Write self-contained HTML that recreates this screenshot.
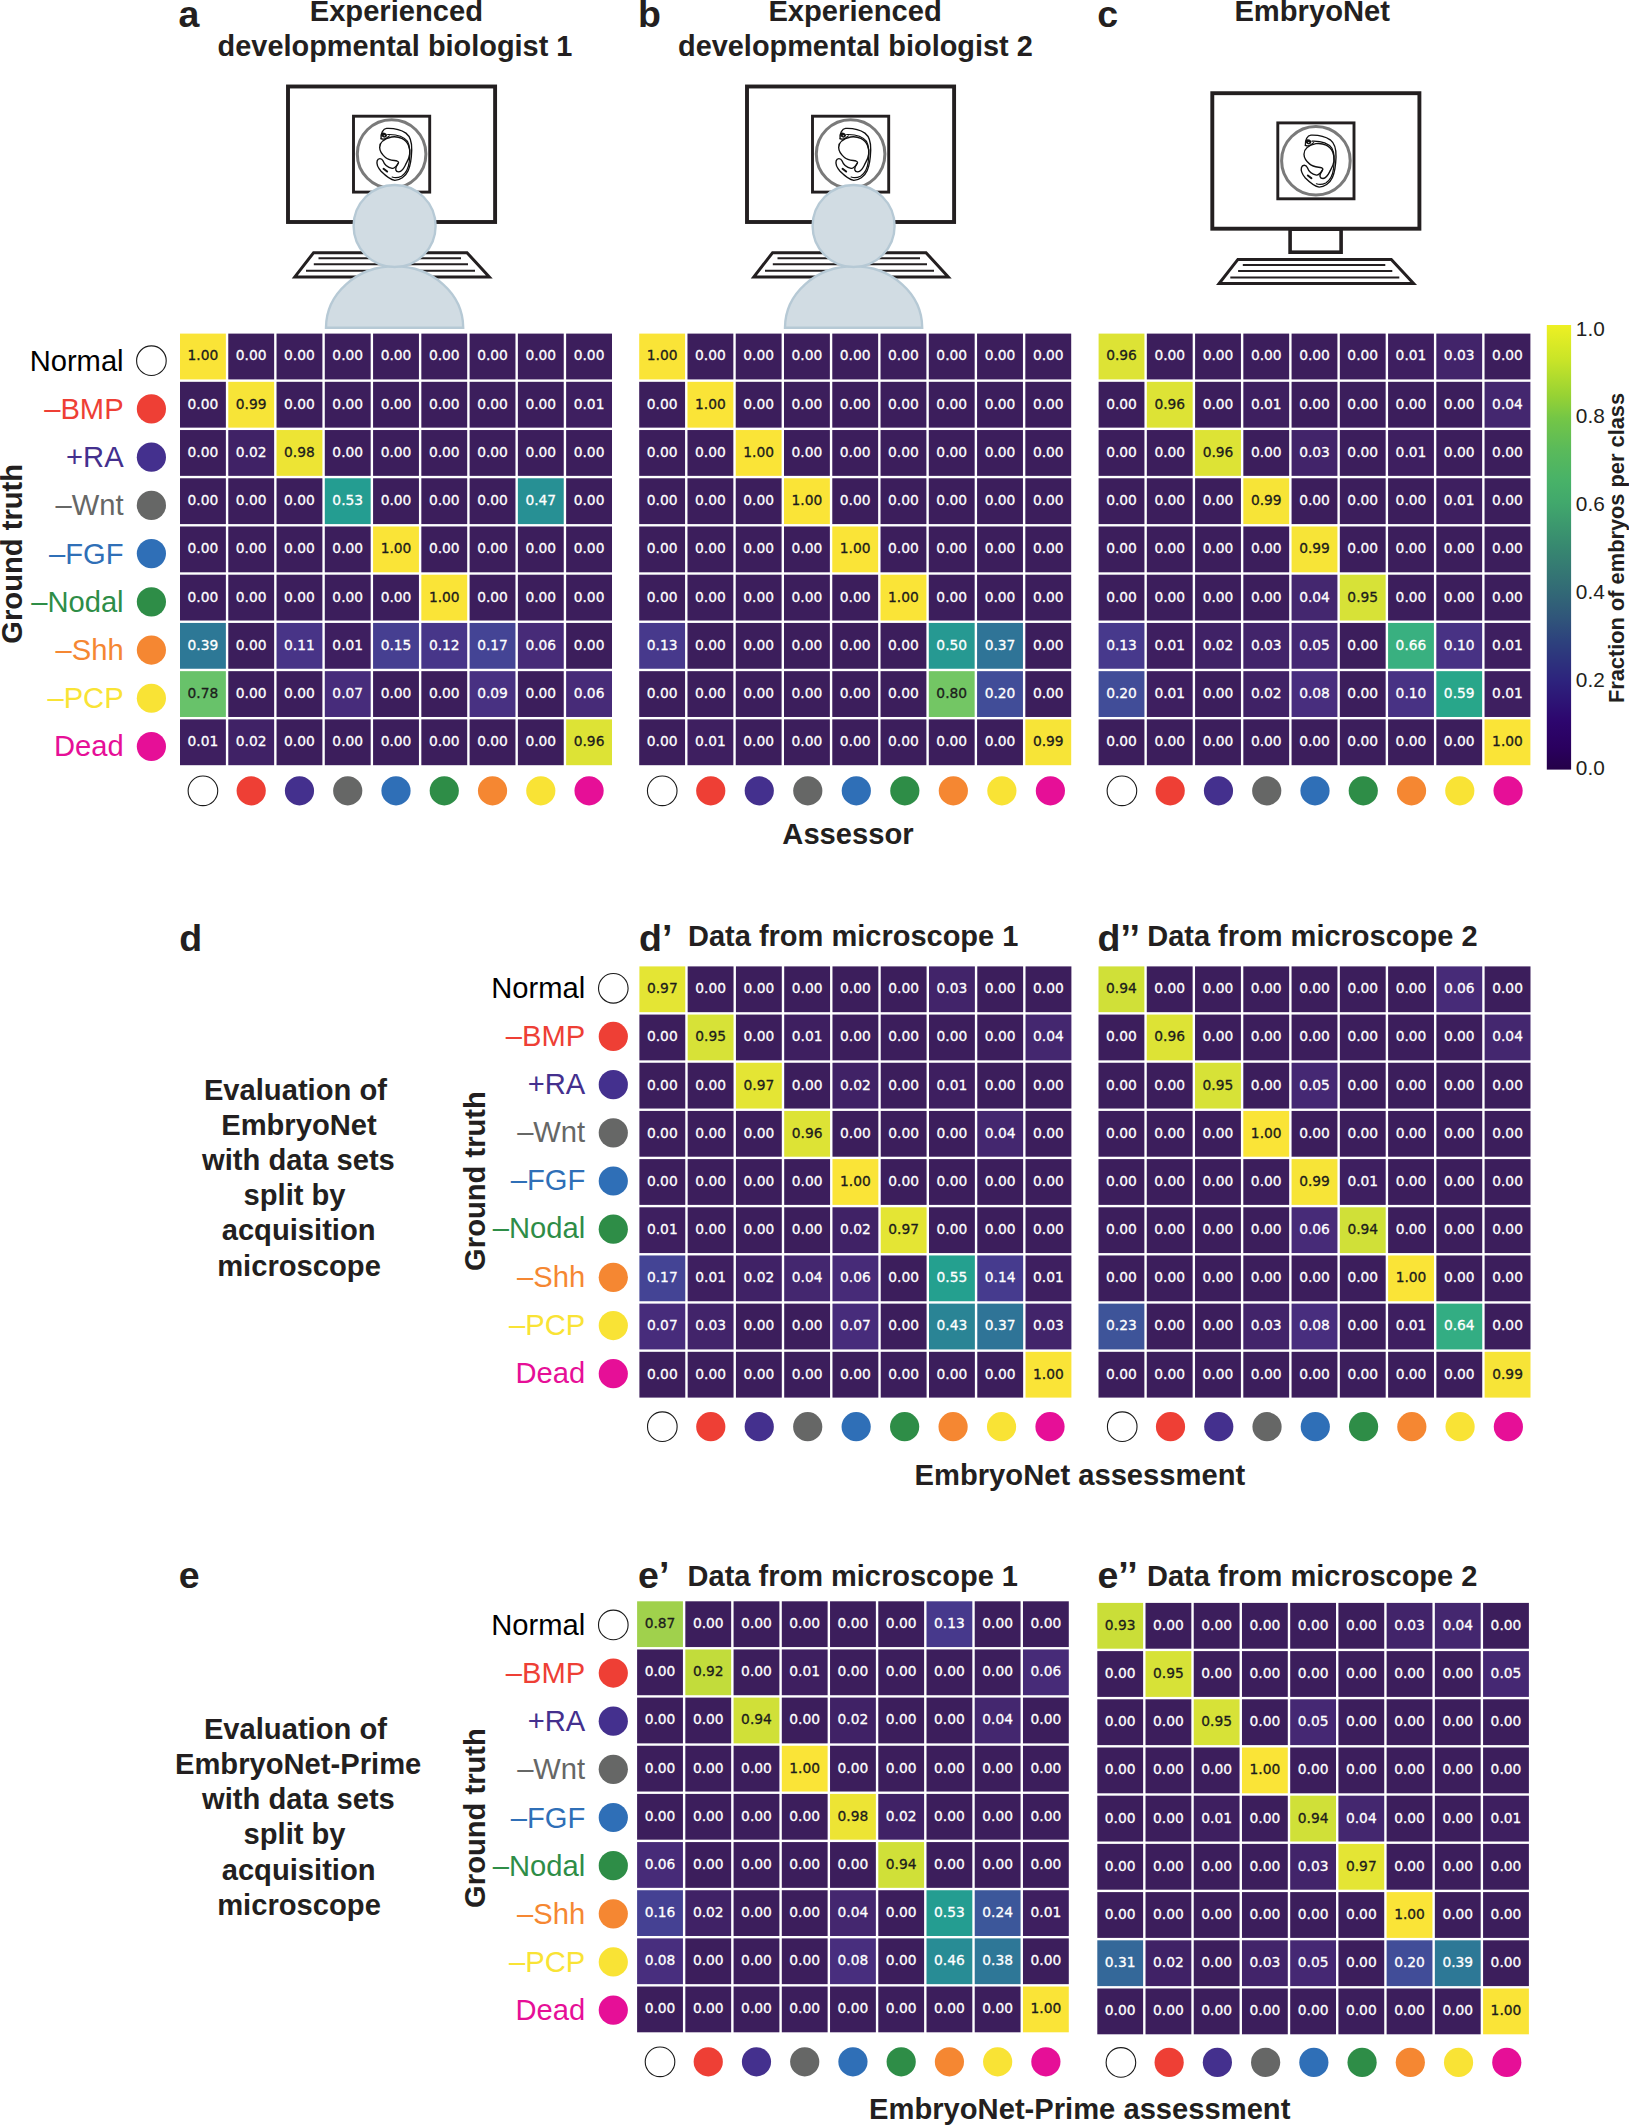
<!DOCTYPE html>
<html lang="en"><head><meta charset="utf-8"><title>Figure</title>
<style>
html,body{margin:0;padding:0;background:#fff;}
body{width:1629px;height:2127px;overflow:hidden;}
svg{display:block;}
text{white-space:pre;}
</style></head><body>
<svg width="1629" height="2127" viewBox="0 0 1629 2127">
<text x="178.60" y="27.20" font-family="Liberation Sans, Arial, Helvetica, sans-serif" font-size="37.50" font-weight="bold" text-anchor="start" fill="#231f20" >a</text>
<text x="396.40" y="20.60" font-family="Liberation Sans, Arial, Helvetica, sans-serif" font-size="29.17" font-weight="bold" text-anchor="middle" fill="#231f20" >Experienced</text>
<text x="395.00" y="56.00" font-family="Liberation Sans, Arial, Helvetica, sans-serif" font-size="28.90" font-weight="bold" text-anchor="middle" fill="#231f20" >developmental biologist 1</text>
<text x="638.00" y="27.20" font-family="Liberation Sans, Arial, Helvetica, sans-serif" font-size="37.50" font-weight="bold" text-anchor="start" fill="#231f20" >b</text>
<text x="855.10" y="20.60" font-family="Liberation Sans, Arial, Helvetica, sans-serif" font-size="29.17" font-weight="bold" text-anchor="middle" fill="#231f20" >Experienced</text>
<text x="855.40" y="56.00" font-family="Liberation Sans, Arial, Helvetica, sans-serif" font-size="28.90" font-weight="bold" text-anchor="middle" fill="#231f20" >developmental biologist 2</text>
<text x="1097.20" y="27.20" font-family="Liberation Sans, Arial, Helvetica, sans-serif" font-size="37.50" font-weight="bold" text-anchor="start" fill="#231f20" >c</text>
<text x="1312.20" y="21.10" font-family="Liberation Sans, Arial, Helvetica, sans-serif" font-size="29.17" font-weight="bold" text-anchor="middle" fill="#231f20" >EmbryoNet</text>
<g fill="none" stroke="#231f20">
<rect x="288.00" y="86.50" width="207.10" height="135.50" fill="#fff" stroke-width="3.9"/>
<rect x="353.50" y="116.20" width="76.20" height="75.90" stroke-width="2.9"/>
<circle cx="391.60" cy="154.00" r="34.3" stroke="#7a7a7a" stroke-width="3.0"/>
<path d="M313.60 252.70 L467.00 252.70 L489.30 276.90 L294.80 276.90 Z" stroke-width="3.0" fill="#fff" stroke-linejoin="miter"/>
<path d="M318.50 258.30 H461.00" stroke-width="1.90"/>
<path d="M313.80 264.30 H468.00" stroke-width="1.90"/>
<path d="M306.00 270.80 H475.00" stroke-width="1.90"/>
</g>
<path d="M 381.06 138.66 C 380.51 133.13 383.27 128.71 386.58 128.44 C 393.21 128.16 400.95 129.82 405.92 133.13 C 410.89 137.00 412.00 143.08 411.72 150.26 C 411.45 158.55 410.34 165.73 408.13 170.70 C 405.37 176.78 399.84 180.37 394.87 180.37 C 391.00 179.82 385.48 175.68 381.06 171.26 C 377.74 167.39 376.36 163.52 377.19 160.76 C 378.02 158.00 381.61 157.72 382.99 160.76 C 384.37 164.63 388.24 167.66 392.11 168.38 C 394.87 168.49 396.80 165.73 398.19 163.24" fill="none" stroke="#111" stroke-width="1.35" stroke-linecap="round" stroke-linejoin="round"/>
<path d="M 379.68 147.50 C 379.68 141.97 384.37 138.66 391.56 137.00 C 398.74 135.90 405.92 139.21 408.41 145.29 C 410.62 150.81 409.79 157.44 406.47 162.97 C 404.26 166.84 403.16 171.26 398.74 171.81 C 395.42 171.81 394.87 169.05 396.80 165.73 C 398.19 163.52 399.84 161.86 397.08 161.03 C 393.21 160.21 388.79 160.21 385.48 157.44 C 381.61 154.13 379.68 151.37 379.68 147.50 Z" fill="none" stroke="#111" stroke-width="1.35" stroke-linecap="round" stroke-linejoin="round"/>
<path d="M 387.69 134.52 C 395.42 134.24 403.71 136.45 407.58 141.42 C 410.34 146.39 410.06 155.79 409.24 161.86 C 408.41 168.49 405.92 173.47 401.50 176.23 C 398.19 177.89 394.32 177.89 392.11 177.06" fill="none" stroke="#111" stroke-width="1.20" stroke-linecap="round" stroke-linejoin="round"/>
<ellipse cx="384.10" cy="135.07" rx="2.9" ry="2.4" fill="#111" transform="rotate(25 384.10 135.07)"/>
<ellipse cx="384.40" cy="135.77" rx="0.8" ry="0.45" fill="#fff"/>
<path d="M 381.06 138.66 C 383.27 139.76 386.58 138.66 389.35 135.90" fill="none" stroke="#111" stroke-width="1.20" stroke-linecap="round" stroke-linejoin="round"/>
<path d="M 383.55 168.77 L 387.14 171.53" fill="none" stroke="#111" stroke-width="2.00" stroke-linecap="round" stroke-linejoin="round"/>
<g fill="#d1dce3" stroke="#b6c9d5" stroke-width="2.4">
<path d="M326.00 327.80 A68.6 61.5 0 0 1 463.20 327.80 Z"/>
<circle cx="394.60" cy="226.00" r="41"/>
</g>
<g fill="none" stroke="#231f20">
<rect x="747.00" y="86.50" width="207.10" height="135.50" fill="#fff" stroke-width="3.9"/>
<rect x="812.50" y="116.20" width="76.20" height="75.90" stroke-width="2.9"/>
<circle cx="850.60" cy="154.00" r="34.3" stroke="#7a7a7a" stroke-width="3.0"/>
<path d="M772.60 252.70 L926.00 252.70 L948.30 276.90 L753.80 276.90 Z" stroke-width="3.0" fill="#fff" stroke-linejoin="miter"/>
<path d="M777.50 258.30 H920.00" stroke-width="1.90"/>
<path d="M772.80 264.30 H927.00" stroke-width="1.90"/>
<path d="M765.00 270.80 H934.00" stroke-width="1.90"/>
</g>
<path d="M 840.06 138.66 C 839.51 133.13 842.27 128.71 845.58 128.44 C 852.21 128.16 859.95 129.82 864.92 133.13 C 869.89 137.00 871.00 143.08 870.72 150.26 C 870.45 158.55 869.34 165.73 867.13 170.70 C 864.37 176.78 858.84 180.37 853.87 180.37 C 850.00 179.82 844.48 175.68 840.06 171.26 C 836.74 167.39 835.36 163.52 836.19 160.76 C 837.02 158.00 840.61 157.72 841.99 160.76 C 843.37 164.63 847.24 167.66 851.11 168.38 C 853.87 168.49 855.80 165.73 857.19 163.24" fill="none" stroke="#111" stroke-width="1.35" stroke-linecap="round" stroke-linejoin="round"/>
<path d="M 838.68 147.50 C 838.68 141.97 843.37 138.66 850.56 137.00 C 857.74 135.90 864.92 139.21 867.41 145.29 C 869.62 150.81 868.79 157.44 865.47 162.97 C 863.26 166.84 862.16 171.26 857.74 171.81 C 854.42 171.81 853.87 169.05 855.80 165.73 C 857.19 163.52 858.84 161.86 856.08 161.03 C 852.21 160.21 847.79 160.21 844.48 157.44 C 840.61 154.13 838.68 151.37 838.68 147.50 Z" fill="none" stroke="#111" stroke-width="1.35" stroke-linecap="round" stroke-linejoin="round"/>
<path d="M 846.69 134.52 C 854.42 134.24 862.71 136.45 866.58 141.42 C 869.34 146.39 869.06 155.79 868.24 161.86 C 867.41 168.49 864.92 173.47 860.50 176.23 C 857.19 177.89 853.32 177.89 851.11 177.06" fill="none" stroke="#111" stroke-width="1.20" stroke-linecap="round" stroke-linejoin="round"/>
<ellipse cx="843.10" cy="135.07" rx="2.9" ry="2.4" fill="#111" transform="rotate(25 843.10 135.07)"/>
<ellipse cx="843.40" cy="135.77" rx="0.8" ry="0.45" fill="#fff"/>
<path d="M 840.06 138.66 C 842.27 139.76 845.58 138.66 848.35 135.90" fill="none" stroke="#111" stroke-width="1.20" stroke-linecap="round" stroke-linejoin="round"/>
<path d="M 842.55 168.77 L 846.14 171.53" fill="none" stroke="#111" stroke-width="2.00" stroke-linecap="round" stroke-linejoin="round"/>
<g fill="#d1dce3" stroke="#b6c9d5" stroke-width="2.4">
<path d="M785.00 327.80 A68.6 61.5 0 0 1 922.20 327.80 Z"/>
<circle cx="853.60" cy="226.00" r="41"/>
</g>
<g fill="none" stroke="#231f20">
<rect x="1212.30" y="93.20" width="207.10" height="135.50" fill="#fff" stroke-width="3.9"/>
<rect x="1277.80" y="122.90" width="76.20" height="75.90" stroke-width="2.9"/>
<circle cx="1315.90" cy="160.70" r="34.3" stroke="#7a7a7a" stroke-width="3.0"/>
<rect x="1290.10" y="229.20" width="51.00" height="23.00" stroke-width="3.6"/>
<path d="M1237.90 259.40 L1391.30 259.40 L1413.60 283.60 L1219.10 283.60 Z" stroke-width="3.0" fill="#fff" stroke-linejoin="miter"/>
<path d="M1242.80 265.00 H1385.30" stroke-width="1.90"/>
<path d="M1238.10 271.00 H1392.30" stroke-width="1.90"/>
<path d="M1230.30 277.50 H1399.30" stroke-width="1.90"/>
</g>
<path d="M 1305.36 145.36 C 1304.81 139.83 1307.57 135.41 1310.88 135.14 C 1317.51 134.86 1325.25 136.52 1330.22 139.83 C 1335.19 143.70 1336.30 149.78 1336.02 156.96 C 1335.75 165.25 1334.64 172.43 1332.43 177.40 C 1329.67 183.48 1324.14 187.07 1319.17 187.07 C 1315.30 186.52 1309.78 182.38 1305.36 177.96 C 1302.04 174.09 1300.66 170.22 1301.49 167.46 C 1302.32 164.70 1305.91 164.42 1307.29 167.46 C 1308.67 171.33 1312.54 174.36 1316.41 175.08 C 1319.17 175.19 1321.10 172.43 1322.49 169.94" fill="none" stroke="#111" stroke-width="1.35" stroke-linecap="round" stroke-linejoin="round"/>
<path d="M 1303.98 154.20 C 1303.98 148.67 1308.67 145.36 1315.86 143.70 C 1323.04 142.60 1330.22 145.91 1332.71 151.99 C 1334.92 157.51 1334.09 164.14 1330.77 169.67 C 1328.56 173.54 1327.46 177.96 1323.04 178.51 C 1319.72 178.51 1319.17 175.75 1321.10 172.43 C 1322.49 170.22 1324.14 168.56 1321.38 167.73 C 1317.51 166.91 1313.09 166.91 1309.78 164.14 C 1305.91 160.83 1303.98 158.07 1303.98 154.20 Z" fill="none" stroke="#111" stroke-width="1.35" stroke-linecap="round" stroke-linejoin="round"/>
<path d="M 1311.99 141.22 C 1319.72 140.94 1328.01 143.15 1331.88 148.12 C 1334.64 153.09 1334.36 162.49 1333.54 168.56 C 1332.71 175.19 1330.22 180.17 1325.80 182.93 C 1322.49 184.59 1318.62 184.59 1316.41 183.76" fill="none" stroke="#111" stroke-width="1.20" stroke-linecap="round" stroke-linejoin="round"/>
<ellipse cx="1308.40" cy="141.77" rx="2.9" ry="2.4" fill="#111" transform="rotate(25 1308.40 141.77)"/>
<ellipse cx="1308.70" cy="142.47" rx="0.8" ry="0.45" fill="#fff"/>
<path d="M 1305.36 145.36 C 1307.57 146.46 1310.88 145.36 1313.65 142.60" fill="none" stroke="#111" stroke-width="1.20" stroke-linecap="round" stroke-linejoin="round"/>
<path d="M 1307.85 175.47 L 1311.44 178.23" fill="none" stroke="#111" stroke-width="2.00" stroke-linecap="round" stroke-linejoin="round"/>
<g>
<rect x="180.00" y="333.60" width="45.87" height="45.82" fill="#fae437"/><rect x="228.27" y="333.60" width="45.87" height="45.82" fill="#3c1e5c"/><rect x="276.53" y="333.60" width="45.87" height="45.82" fill="#3c1e5c"/><rect x="324.80" y="333.60" width="45.87" height="45.82" fill="#3c1e5c"/><rect x="373.07" y="333.60" width="45.87" height="45.82" fill="#3c1e5c"/><rect x="421.33" y="333.60" width="45.87" height="45.82" fill="#3c1e5c"/><rect x="469.60" y="333.60" width="45.87" height="45.82" fill="#3c1e5c"/><rect x="517.87" y="333.60" width="45.87" height="45.82" fill="#3c1e5c"/><rect x="566.13" y="333.60" width="45.87" height="45.82" fill="#3c1e5c"/><rect x="180.00" y="381.82" width="45.87" height="45.82" fill="#3c1e5c"/><rect x="228.27" y="381.82" width="45.87" height="45.82" fill="#f7e437"/><rect x="276.53" y="381.82" width="45.87" height="45.82" fill="#3c1e5c"/><rect x="324.80" y="381.82" width="45.87" height="45.82" fill="#3c1e5c"/><rect x="373.07" y="381.82" width="45.87" height="45.82" fill="#3c1e5c"/><rect x="421.33" y="381.82" width="45.87" height="45.82" fill="#3c1e5c"/><rect x="469.60" y="381.82" width="45.87" height="45.82" fill="#3c1e5c"/><rect x="517.87" y="381.82" width="45.87" height="45.82" fill="#3c1e5c"/><rect x="566.13" y="381.82" width="45.87" height="45.82" fill="#3e1f60"/><rect x="180.00" y="430.04" width="45.87" height="45.82" fill="#3c1e5c"/><rect x="228.27" y="430.04" width="45.87" height="45.82" fill="#402266"/><rect x="276.53" y="430.04" width="45.87" height="45.82" fill="#ede434"/><rect x="324.80" y="430.04" width="45.87" height="45.82" fill="#3c1e5c"/><rect x="373.07" y="430.04" width="45.87" height="45.82" fill="#3c1e5c"/><rect x="421.33" y="430.04" width="45.87" height="45.82" fill="#3c1e5c"/><rect x="469.60" y="430.04" width="45.87" height="45.82" fill="#3c1e5c"/><rect x="517.87" y="430.04" width="45.87" height="45.82" fill="#3c1e5c"/><rect x="566.13" y="430.04" width="45.87" height="45.82" fill="#3c1e5c"/><rect x="180.00" y="478.27" width="45.87" height="45.82" fill="#3c1e5c"/><rect x="228.27" y="478.27" width="45.87" height="45.82" fill="#3c1e5c"/><rect x="276.53" y="478.27" width="45.87" height="45.82" fill="#3c1e5c"/><rect x="324.80" y="478.27" width="45.87" height="45.82" fill="#249d91"/><rect x="373.07" y="478.27" width="45.87" height="45.82" fill="#3c1e5c"/><rect x="421.33" y="478.27" width="45.87" height="45.82" fill="#3c1e5c"/><rect x="469.60" y="478.27" width="45.87" height="45.82" fill="#3c1e5c"/><rect x="517.87" y="478.27" width="45.87" height="45.82" fill="#279094"/><rect x="566.13" y="478.27" width="45.87" height="45.82" fill="#3c1e5c"/><rect x="180.00" y="526.49" width="45.87" height="45.82" fill="#3c1e5c"/><rect x="228.27" y="526.49" width="45.87" height="45.82" fill="#3c1e5c"/><rect x="276.53" y="526.49" width="45.87" height="45.82" fill="#3c1e5c"/><rect x="324.80" y="526.49" width="45.87" height="45.82" fill="#3c1e5c"/><rect x="373.07" y="526.49" width="45.87" height="45.82" fill="#fae437"/><rect x="421.33" y="526.49" width="45.87" height="45.82" fill="#3c1e5c"/><rect x="469.60" y="526.49" width="45.87" height="45.82" fill="#3c1e5c"/><rect x="517.87" y="526.49" width="45.87" height="45.82" fill="#3c1e5c"/><rect x="566.13" y="526.49" width="45.87" height="45.82" fill="#3c1e5c"/><rect x="180.00" y="574.71" width="45.87" height="45.82" fill="#3c1e5c"/><rect x="228.27" y="574.71" width="45.87" height="45.82" fill="#3c1e5c"/><rect x="276.53" y="574.71" width="45.87" height="45.82" fill="#3c1e5c"/><rect x="324.80" y="574.71" width="45.87" height="45.82" fill="#3c1e5c"/><rect x="373.07" y="574.71" width="45.87" height="45.82" fill="#3c1e5c"/><rect x="421.33" y="574.71" width="45.87" height="45.82" fill="#fae437"/><rect x="469.60" y="574.71" width="45.87" height="45.82" fill="#3c1e5c"/><rect x="517.87" y="574.71" width="45.87" height="45.82" fill="#3c1e5c"/><rect x="566.13" y="574.71" width="45.87" height="45.82" fill="#3c1e5c"/><rect x="180.00" y="622.93" width="45.87" height="45.82" fill="#2d7896"/><rect x="228.27" y="622.93" width="45.87" height="45.82" fill="#3c1e5c"/><rect x="276.53" y="622.93" width="45.87" height="45.82" fill="#483487"/><rect x="324.80" y="622.93" width="45.87" height="45.82" fill="#3e1f60"/><rect x="373.07" y="622.93" width="45.87" height="45.82" fill="#463f91"/><rect x="421.33" y="622.93" width="45.87" height="45.82" fill="#473689"/><rect x="469.60" y="622.93" width="45.87" height="45.82" fill="#444495"/><rect x="517.87" y="622.93" width="45.87" height="45.82" fill="#472b78"/><rect x="566.13" y="622.93" width="45.87" height="45.82" fill="#3c1e5c"/><rect x="180.00" y="671.16" width="45.87" height="45.82" fill="#68c26a"/><rect x="228.27" y="671.16" width="45.87" height="45.82" fill="#3c1e5c"/><rect x="276.53" y="671.16" width="45.87" height="45.82" fill="#3c1e5c"/><rect x="324.80" y="671.16" width="45.87" height="45.82" fill="#472c7b"/><rect x="373.07" y="671.16" width="45.87" height="45.82" fill="#3c1e5c"/><rect x="421.33" y="671.16" width="45.87" height="45.82" fill="#3c1e5c"/><rect x="469.60" y="671.16" width="45.87" height="45.82" fill="#483182"/><rect x="517.87" y="671.16" width="45.87" height="45.82" fill="#3c1e5c"/><rect x="566.13" y="671.16" width="45.87" height="45.82" fill="#472b78"/><rect x="180.00" y="719.38" width="45.87" height="45.82" fill="#3e1f60"/><rect x="228.27" y="719.38" width="45.87" height="45.82" fill="#402266"/><rect x="276.53" y="719.38" width="45.87" height="45.82" fill="#3c1e5c"/><rect x="324.80" y="719.38" width="45.87" height="45.82" fill="#3c1e5c"/><rect x="373.07" y="719.38" width="45.87" height="45.82" fill="#3c1e5c"/><rect x="421.33" y="719.38" width="45.87" height="45.82" fill="#3c1e5c"/><rect x="469.60" y="719.38" width="45.87" height="45.82" fill="#3c1e5c"/><rect x="517.87" y="719.38" width="45.87" height="45.82" fill="#3c1e5c"/><rect x="566.13" y="719.38" width="45.87" height="45.82" fill="#dde335"/>
<g font-family="DejaVu Sans, Liberation Sans, sans-serif" font-size="13.80" text-anchor="middle" stroke-width="0.3"><text x="202.93" y="360.41" fill="#1c1c1c" stroke="#1c1c1c">1.00</text><text x="251.20" y="360.41" fill="#ffffff" stroke="#ffffff">0.00</text><text x="299.47" y="360.41" fill="#ffffff" stroke="#ffffff">0.00</text><text x="347.73" y="360.41" fill="#ffffff" stroke="#ffffff">0.00</text><text x="396.00" y="360.41" fill="#ffffff" stroke="#ffffff">0.00</text><text x="444.27" y="360.41" fill="#ffffff" stroke="#ffffff">0.00</text><text x="492.53" y="360.41" fill="#ffffff" stroke="#ffffff">0.00</text><text x="540.80" y="360.41" fill="#ffffff" stroke="#ffffff">0.00</text><text x="589.07" y="360.41" fill="#ffffff" stroke="#ffffff">0.00</text><text x="202.93" y="408.63" fill="#ffffff" stroke="#ffffff">0.00</text><text x="251.20" y="408.63" fill="#1c1c1c" stroke="#1c1c1c">0.99</text><text x="299.47" y="408.63" fill="#ffffff" stroke="#ffffff">0.00</text><text x="347.73" y="408.63" fill="#ffffff" stroke="#ffffff">0.00</text><text x="396.00" y="408.63" fill="#ffffff" stroke="#ffffff">0.00</text><text x="444.27" y="408.63" fill="#ffffff" stroke="#ffffff">0.00</text><text x="492.53" y="408.63" fill="#ffffff" stroke="#ffffff">0.00</text><text x="540.80" y="408.63" fill="#ffffff" stroke="#ffffff">0.00</text><text x="589.07" y="408.63" fill="#ffffff" stroke="#ffffff">0.01</text><text x="202.93" y="456.86" fill="#ffffff" stroke="#ffffff">0.00</text><text x="251.20" y="456.86" fill="#ffffff" stroke="#ffffff">0.02</text><text x="299.47" y="456.86" fill="#1c1c1c" stroke="#1c1c1c">0.98</text><text x="347.73" y="456.86" fill="#ffffff" stroke="#ffffff">0.00</text><text x="396.00" y="456.86" fill="#ffffff" stroke="#ffffff">0.00</text><text x="444.27" y="456.86" fill="#ffffff" stroke="#ffffff">0.00</text><text x="492.53" y="456.86" fill="#ffffff" stroke="#ffffff">0.00</text><text x="540.80" y="456.86" fill="#ffffff" stroke="#ffffff">0.00</text><text x="589.07" y="456.86" fill="#ffffff" stroke="#ffffff">0.00</text><text x="202.93" y="505.08" fill="#ffffff" stroke="#ffffff">0.00</text><text x="251.20" y="505.08" fill="#ffffff" stroke="#ffffff">0.00</text><text x="299.47" y="505.08" fill="#ffffff" stroke="#ffffff">0.00</text><text x="347.73" y="505.08" fill="#ffffff" stroke="#ffffff">0.53</text><text x="396.00" y="505.08" fill="#ffffff" stroke="#ffffff">0.00</text><text x="444.27" y="505.08" fill="#ffffff" stroke="#ffffff">0.00</text><text x="492.53" y="505.08" fill="#ffffff" stroke="#ffffff">0.00</text><text x="540.80" y="505.08" fill="#ffffff" stroke="#ffffff">0.47</text><text x="589.07" y="505.08" fill="#ffffff" stroke="#ffffff">0.00</text><text x="202.93" y="553.30" fill="#ffffff" stroke="#ffffff">0.00</text><text x="251.20" y="553.30" fill="#ffffff" stroke="#ffffff">0.00</text><text x="299.47" y="553.30" fill="#ffffff" stroke="#ffffff">0.00</text><text x="347.73" y="553.30" fill="#ffffff" stroke="#ffffff">0.00</text><text x="396.00" y="553.30" fill="#1c1c1c" stroke="#1c1c1c">1.00</text><text x="444.27" y="553.30" fill="#ffffff" stroke="#ffffff">0.00</text><text x="492.53" y="553.30" fill="#ffffff" stroke="#ffffff">0.00</text><text x="540.80" y="553.30" fill="#ffffff" stroke="#ffffff">0.00</text><text x="589.07" y="553.30" fill="#ffffff" stroke="#ffffff">0.00</text><text x="202.93" y="601.52" fill="#ffffff" stroke="#ffffff">0.00</text><text x="251.20" y="601.52" fill="#ffffff" stroke="#ffffff">0.00</text><text x="299.47" y="601.52" fill="#ffffff" stroke="#ffffff">0.00</text><text x="347.73" y="601.52" fill="#ffffff" stroke="#ffffff">0.00</text><text x="396.00" y="601.52" fill="#ffffff" stroke="#ffffff">0.00</text><text x="444.27" y="601.52" fill="#1c1c1c" stroke="#1c1c1c">1.00</text><text x="492.53" y="601.52" fill="#ffffff" stroke="#ffffff">0.00</text><text x="540.80" y="601.52" fill="#ffffff" stroke="#ffffff">0.00</text><text x="589.07" y="601.52" fill="#ffffff" stroke="#ffffff">0.00</text><text x="202.93" y="649.74" fill="#ffffff" stroke="#ffffff">0.39</text><text x="251.20" y="649.74" fill="#ffffff" stroke="#ffffff">0.00</text><text x="299.47" y="649.74" fill="#ffffff" stroke="#ffffff">0.11</text><text x="347.73" y="649.74" fill="#ffffff" stroke="#ffffff">0.01</text><text x="396.00" y="649.74" fill="#ffffff" stroke="#ffffff">0.15</text><text x="444.27" y="649.74" fill="#ffffff" stroke="#ffffff">0.12</text><text x="492.53" y="649.74" fill="#ffffff" stroke="#ffffff">0.17</text><text x="540.80" y="649.74" fill="#ffffff" stroke="#ffffff">0.06</text><text x="589.07" y="649.74" fill="#ffffff" stroke="#ffffff">0.00</text><text x="202.93" y="697.97" fill="#1c1c1c" stroke="#1c1c1c">0.78</text><text x="251.20" y="697.97" fill="#ffffff" stroke="#ffffff">0.00</text><text x="299.47" y="697.97" fill="#ffffff" stroke="#ffffff">0.00</text><text x="347.73" y="697.97" fill="#ffffff" stroke="#ffffff">0.07</text><text x="396.00" y="697.97" fill="#ffffff" stroke="#ffffff">0.00</text><text x="444.27" y="697.97" fill="#ffffff" stroke="#ffffff">0.00</text><text x="492.53" y="697.97" fill="#ffffff" stroke="#ffffff">0.09</text><text x="540.80" y="697.97" fill="#ffffff" stroke="#ffffff">0.00</text><text x="589.07" y="697.97" fill="#ffffff" stroke="#ffffff">0.06</text><text x="202.93" y="746.19" fill="#ffffff" stroke="#ffffff">0.01</text><text x="251.20" y="746.19" fill="#ffffff" stroke="#ffffff">0.02</text><text x="299.47" y="746.19" fill="#ffffff" stroke="#ffffff">0.00</text><text x="347.73" y="746.19" fill="#ffffff" stroke="#ffffff">0.00</text><text x="396.00" y="746.19" fill="#ffffff" stroke="#ffffff">0.00</text><text x="444.27" y="746.19" fill="#ffffff" stroke="#ffffff">0.00</text><text x="492.53" y="746.19" fill="#ffffff" stroke="#ffffff">0.00</text><text x="540.80" y="746.19" fill="#ffffff" stroke="#ffffff">0.00</text><text x="589.07" y="746.19" fill="#1c1c1c" stroke="#1c1c1c">0.96</text></g>
</g>
<g>
<rect x="639.20" y="333.60" width="45.87" height="45.82" fill="#fae437"/><rect x="687.47" y="333.60" width="45.87" height="45.82" fill="#3c1e5c"/><rect x="735.73" y="333.60" width="45.87" height="45.82" fill="#3c1e5c"/><rect x="784.00" y="333.60" width="45.87" height="45.82" fill="#3c1e5c"/><rect x="832.27" y="333.60" width="45.87" height="45.82" fill="#3c1e5c"/><rect x="880.53" y="333.60" width="45.87" height="45.82" fill="#3c1e5c"/><rect x="928.80" y="333.60" width="45.87" height="45.82" fill="#3c1e5c"/><rect x="977.07" y="333.60" width="45.87" height="45.82" fill="#3c1e5c"/><rect x="1025.33" y="333.60" width="45.87" height="45.82" fill="#3c1e5c"/><rect x="639.20" y="381.82" width="45.87" height="45.82" fill="#3c1e5c"/><rect x="687.47" y="381.82" width="45.87" height="45.82" fill="#fae437"/><rect x="735.73" y="381.82" width="45.87" height="45.82" fill="#3c1e5c"/><rect x="784.00" y="381.82" width="45.87" height="45.82" fill="#3c1e5c"/><rect x="832.27" y="381.82" width="45.87" height="45.82" fill="#3c1e5c"/><rect x="880.53" y="381.82" width="45.87" height="45.82" fill="#3c1e5c"/><rect x="928.80" y="381.82" width="45.87" height="45.82" fill="#3c1e5c"/><rect x="977.07" y="381.82" width="45.87" height="45.82" fill="#3c1e5c"/><rect x="1025.33" y="381.82" width="45.87" height="45.82" fill="#3c1e5c"/><rect x="639.20" y="430.04" width="45.87" height="45.82" fill="#3c1e5c"/><rect x="687.47" y="430.04" width="45.87" height="45.82" fill="#3c1e5c"/><rect x="735.73" y="430.04" width="45.87" height="45.82" fill="#fae437"/><rect x="784.00" y="430.04" width="45.87" height="45.82" fill="#3c1e5c"/><rect x="832.27" y="430.04" width="45.87" height="45.82" fill="#3c1e5c"/><rect x="880.53" y="430.04" width="45.87" height="45.82" fill="#3c1e5c"/><rect x="928.80" y="430.04" width="45.87" height="45.82" fill="#3c1e5c"/><rect x="977.07" y="430.04" width="45.87" height="45.82" fill="#3c1e5c"/><rect x="1025.33" y="430.04" width="45.87" height="45.82" fill="#3c1e5c"/><rect x="639.20" y="478.27" width="45.87" height="45.82" fill="#3c1e5c"/><rect x="687.47" y="478.27" width="45.87" height="45.82" fill="#3c1e5c"/><rect x="735.73" y="478.27" width="45.87" height="45.82" fill="#3c1e5c"/><rect x="784.00" y="478.27" width="45.87" height="45.82" fill="#fae437"/><rect x="832.27" y="478.27" width="45.87" height="45.82" fill="#3c1e5c"/><rect x="880.53" y="478.27" width="45.87" height="45.82" fill="#3c1e5c"/><rect x="928.80" y="478.27" width="45.87" height="45.82" fill="#3c1e5c"/><rect x="977.07" y="478.27" width="45.87" height="45.82" fill="#3c1e5c"/><rect x="1025.33" y="478.27" width="45.87" height="45.82" fill="#3c1e5c"/><rect x="639.20" y="526.49" width="45.87" height="45.82" fill="#3c1e5c"/><rect x="687.47" y="526.49" width="45.87" height="45.82" fill="#3c1e5c"/><rect x="735.73" y="526.49" width="45.87" height="45.82" fill="#3c1e5c"/><rect x="784.00" y="526.49" width="45.87" height="45.82" fill="#3c1e5c"/><rect x="832.27" y="526.49" width="45.87" height="45.82" fill="#fae437"/><rect x="880.53" y="526.49" width="45.87" height="45.82" fill="#3c1e5c"/><rect x="928.80" y="526.49" width="45.87" height="45.82" fill="#3c1e5c"/><rect x="977.07" y="526.49" width="45.87" height="45.82" fill="#3c1e5c"/><rect x="1025.33" y="526.49" width="45.87" height="45.82" fill="#3c1e5c"/><rect x="639.20" y="574.71" width="45.87" height="45.82" fill="#3c1e5c"/><rect x="687.47" y="574.71" width="45.87" height="45.82" fill="#3c1e5c"/><rect x="735.73" y="574.71" width="45.87" height="45.82" fill="#3c1e5c"/><rect x="784.00" y="574.71" width="45.87" height="45.82" fill="#3c1e5c"/><rect x="832.27" y="574.71" width="45.87" height="45.82" fill="#3c1e5c"/><rect x="880.53" y="574.71" width="45.87" height="45.82" fill="#fae437"/><rect x="928.80" y="574.71" width="45.87" height="45.82" fill="#3c1e5c"/><rect x="977.07" y="574.71" width="45.87" height="45.82" fill="#3c1e5c"/><rect x="1025.33" y="574.71" width="45.87" height="45.82" fill="#3c1e5c"/><rect x="639.20" y="622.93" width="45.87" height="45.82" fill="#47398c"/><rect x="687.47" y="622.93" width="45.87" height="45.82" fill="#3c1e5c"/><rect x="735.73" y="622.93" width="45.87" height="45.82" fill="#3c1e5c"/><rect x="784.00" y="622.93" width="45.87" height="45.82" fill="#3c1e5c"/><rect x="832.27" y="622.93" width="45.87" height="45.82" fill="#3c1e5c"/><rect x="880.53" y="622.93" width="45.87" height="45.82" fill="#3c1e5c"/><rect x="928.80" y="622.93" width="45.87" height="45.82" fill="#269992"/><rect x="977.07" y="622.93" width="45.87" height="45.82" fill="#2f7497"/><rect x="1025.33" y="622.93" width="45.87" height="45.82" fill="#3c1e5c"/><rect x="639.20" y="671.16" width="45.87" height="45.82" fill="#3c1e5c"/><rect x="687.47" y="671.16" width="45.87" height="45.82" fill="#3c1e5c"/><rect x="735.73" y="671.16" width="45.87" height="45.82" fill="#3c1e5c"/><rect x="784.00" y="671.16" width="45.87" height="45.82" fill="#3c1e5c"/><rect x="832.27" y="671.16" width="45.87" height="45.82" fill="#3c1e5c"/><rect x="880.53" y="671.16" width="45.87" height="45.82" fill="#3c1e5c"/><rect x="928.80" y="671.16" width="45.87" height="45.82" fill="#73c664"/><rect x="977.07" y="671.16" width="45.87" height="45.82" fill="#414d98"/><rect x="1025.33" y="671.16" width="45.87" height="45.82" fill="#3c1e5c"/><rect x="639.20" y="719.38" width="45.87" height="45.82" fill="#3c1e5c"/><rect x="687.47" y="719.38" width="45.87" height="45.82" fill="#3e1f60"/><rect x="735.73" y="719.38" width="45.87" height="45.82" fill="#3c1e5c"/><rect x="784.00" y="719.38" width="45.87" height="45.82" fill="#3c1e5c"/><rect x="832.27" y="719.38" width="45.87" height="45.82" fill="#3c1e5c"/><rect x="880.53" y="719.38" width="45.87" height="45.82" fill="#3c1e5c"/><rect x="928.80" y="719.38" width="45.87" height="45.82" fill="#3c1e5c"/><rect x="977.07" y="719.38" width="45.87" height="45.82" fill="#3c1e5c"/><rect x="1025.33" y="719.38" width="45.87" height="45.82" fill="#f7e437"/>
<g font-family="DejaVu Sans, Liberation Sans, sans-serif" font-size="13.80" text-anchor="middle" stroke-width="0.3"><text x="662.13" y="360.41" fill="#1c1c1c" stroke="#1c1c1c">1.00</text><text x="710.40" y="360.41" fill="#ffffff" stroke="#ffffff">0.00</text><text x="758.67" y="360.41" fill="#ffffff" stroke="#ffffff">0.00</text><text x="806.93" y="360.41" fill="#ffffff" stroke="#ffffff">0.00</text><text x="855.20" y="360.41" fill="#ffffff" stroke="#ffffff">0.00</text><text x="903.47" y="360.41" fill="#ffffff" stroke="#ffffff">0.00</text><text x="951.73" y="360.41" fill="#ffffff" stroke="#ffffff">0.00</text><text x="1000.00" y="360.41" fill="#ffffff" stroke="#ffffff">0.00</text><text x="1048.27" y="360.41" fill="#ffffff" stroke="#ffffff">0.00</text><text x="662.13" y="408.63" fill="#ffffff" stroke="#ffffff">0.00</text><text x="710.40" y="408.63" fill="#1c1c1c" stroke="#1c1c1c">1.00</text><text x="758.67" y="408.63" fill="#ffffff" stroke="#ffffff">0.00</text><text x="806.93" y="408.63" fill="#ffffff" stroke="#ffffff">0.00</text><text x="855.20" y="408.63" fill="#ffffff" stroke="#ffffff">0.00</text><text x="903.47" y="408.63" fill="#ffffff" stroke="#ffffff">0.00</text><text x="951.73" y="408.63" fill="#ffffff" stroke="#ffffff">0.00</text><text x="1000.00" y="408.63" fill="#ffffff" stroke="#ffffff">0.00</text><text x="1048.27" y="408.63" fill="#ffffff" stroke="#ffffff">0.00</text><text x="662.13" y="456.86" fill="#ffffff" stroke="#ffffff">0.00</text><text x="710.40" y="456.86" fill="#ffffff" stroke="#ffffff">0.00</text><text x="758.67" y="456.86" fill="#1c1c1c" stroke="#1c1c1c">1.00</text><text x="806.93" y="456.86" fill="#ffffff" stroke="#ffffff">0.00</text><text x="855.20" y="456.86" fill="#ffffff" stroke="#ffffff">0.00</text><text x="903.47" y="456.86" fill="#ffffff" stroke="#ffffff">0.00</text><text x="951.73" y="456.86" fill="#ffffff" stroke="#ffffff">0.00</text><text x="1000.00" y="456.86" fill="#ffffff" stroke="#ffffff">0.00</text><text x="1048.27" y="456.86" fill="#ffffff" stroke="#ffffff">0.00</text><text x="662.13" y="505.08" fill="#ffffff" stroke="#ffffff">0.00</text><text x="710.40" y="505.08" fill="#ffffff" stroke="#ffffff">0.00</text><text x="758.67" y="505.08" fill="#ffffff" stroke="#ffffff">0.00</text><text x="806.93" y="505.08" fill="#1c1c1c" stroke="#1c1c1c">1.00</text><text x="855.20" y="505.08" fill="#ffffff" stroke="#ffffff">0.00</text><text x="903.47" y="505.08" fill="#ffffff" stroke="#ffffff">0.00</text><text x="951.73" y="505.08" fill="#ffffff" stroke="#ffffff">0.00</text><text x="1000.00" y="505.08" fill="#ffffff" stroke="#ffffff">0.00</text><text x="1048.27" y="505.08" fill="#ffffff" stroke="#ffffff">0.00</text><text x="662.13" y="553.30" fill="#ffffff" stroke="#ffffff">0.00</text><text x="710.40" y="553.30" fill="#ffffff" stroke="#ffffff">0.00</text><text x="758.67" y="553.30" fill="#ffffff" stroke="#ffffff">0.00</text><text x="806.93" y="553.30" fill="#ffffff" stroke="#ffffff">0.00</text><text x="855.20" y="553.30" fill="#1c1c1c" stroke="#1c1c1c">1.00</text><text x="903.47" y="553.30" fill="#ffffff" stroke="#ffffff">0.00</text><text x="951.73" y="553.30" fill="#ffffff" stroke="#ffffff">0.00</text><text x="1000.00" y="553.30" fill="#ffffff" stroke="#ffffff">0.00</text><text x="1048.27" y="553.30" fill="#ffffff" stroke="#ffffff">0.00</text><text x="662.13" y="601.52" fill="#ffffff" stroke="#ffffff">0.00</text><text x="710.40" y="601.52" fill="#ffffff" stroke="#ffffff">0.00</text><text x="758.67" y="601.52" fill="#ffffff" stroke="#ffffff">0.00</text><text x="806.93" y="601.52" fill="#ffffff" stroke="#ffffff">0.00</text><text x="855.20" y="601.52" fill="#ffffff" stroke="#ffffff">0.00</text><text x="903.47" y="601.52" fill="#1c1c1c" stroke="#1c1c1c">1.00</text><text x="951.73" y="601.52" fill="#ffffff" stroke="#ffffff">0.00</text><text x="1000.00" y="601.52" fill="#ffffff" stroke="#ffffff">0.00</text><text x="1048.27" y="601.52" fill="#ffffff" stroke="#ffffff">0.00</text><text x="662.13" y="649.74" fill="#ffffff" stroke="#ffffff">0.13</text><text x="710.40" y="649.74" fill="#ffffff" stroke="#ffffff">0.00</text><text x="758.67" y="649.74" fill="#ffffff" stroke="#ffffff">0.00</text><text x="806.93" y="649.74" fill="#ffffff" stroke="#ffffff">0.00</text><text x="855.20" y="649.74" fill="#ffffff" stroke="#ffffff">0.00</text><text x="903.47" y="649.74" fill="#ffffff" stroke="#ffffff">0.00</text><text x="951.73" y="649.74" fill="#ffffff" stroke="#ffffff">0.50</text><text x="1000.00" y="649.74" fill="#ffffff" stroke="#ffffff">0.37</text><text x="1048.27" y="649.74" fill="#ffffff" stroke="#ffffff">0.00</text><text x="662.13" y="697.97" fill="#ffffff" stroke="#ffffff">0.00</text><text x="710.40" y="697.97" fill="#ffffff" stroke="#ffffff">0.00</text><text x="758.67" y="697.97" fill="#ffffff" stroke="#ffffff">0.00</text><text x="806.93" y="697.97" fill="#ffffff" stroke="#ffffff">0.00</text><text x="855.20" y="697.97" fill="#ffffff" stroke="#ffffff">0.00</text><text x="903.47" y="697.97" fill="#ffffff" stroke="#ffffff">0.00</text><text x="951.73" y="697.97" fill="#1c1c1c" stroke="#1c1c1c">0.80</text><text x="1000.00" y="697.97" fill="#ffffff" stroke="#ffffff">0.20</text><text x="1048.27" y="697.97" fill="#ffffff" stroke="#ffffff">0.00</text><text x="662.13" y="746.19" fill="#ffffff" stroke="#ffffff">0.00</text><text x="710.40" y="746.19" fill="#ffffff" stroke="#ffffff">0.01</text><text x="758.67" y="746.19" fill="#ffffff" stroke="#ffffff">0.00</text><text x="806.93" y="746.19" fill="#ffffff" stroke="#ffffff">0.00</text><text x="855.20" y="746.19" fill="#ffffff" stroke="#ffffff">0.00</text><text x="903.47" y="746.19" fill="#ffffff" stroke="#ffffff">0.00</text><text x="951.73" y="746.19" fill="#ffffff" stroke="#ffffff">0.00</text><text x="1000.00" y="746.19" fill="#ffffff" stroke="#ffffff">0.00</text><text x="1048.27" y="746.19" fill="#1c1c1c" stroke="#1c1c1c">0.99</text></g>
</g>
<g>
<rect x="1098.60" y="333.60" width="45.84" height="45.82" fill="#dde335"/><rect x="1146.84" y="333.60" width="45.84" height="45.82" fill="#3c1e5c"/><rect x="1195.09" y="333.60" width="45.84" height="45.82" fill="#3c1e5c"/><rect x="1243.33" y="333.60" width="45.84" height="45.82" fill="#3c1e5c"/><rect x="1291.58" y="333.60" width="45.84" height="45.82" fill="#3c1e5c"/><rect x="1339.82" y="333.60" width="45.84" height="45.82" fill="#3c1e5c"/><rect x="1388.07" y="333.60" width="45.84" height="45.82" fill="#3e1f60"/><rect x="1436.31" y="333.60" width="45.84" height="45.82" fill="#42246a"/><rect x="1484.56" y="333.60" width="45.84" height="45.82" fill="#3c1e5c"/><rect x="1098.60" y="381.82" width="45.84" height="45.82" fill="#3c1e5c"/><rect x="1146.84" y="381.82" width="45.84" height="45.82" fill="#dde335"/><rect x="1195.09" y="381.82" width="45.84" height="45.82" fill="#3c1e5c"/><rect x="1243.33" y="381.82" width="45.84" height="45.82" fill="#3e1f60"/><rect x="1291.58" y="381.82" width="45.84" height="45.82" fill="#3c1e5c"/><rect x="1339.82" y="381.82" width="45.84" height="45.82" fill="#3c1e5c"/><rect x="1388.07" y="381.82" width="45.84" height="45.82" fill="#3c1e5c"/><rect x="1436.31" y="381.82" width="45.84" height="45.82" fill="#3c1e5c"/><rect x="1484.56" y="381.82" width="45.84" height="45.82" fill="#44276f"/><rect x="1098.60" y="430.04" width="45.84" height="45.82" fill="#3c1e5c"/><rect x="1146.84" y="430.04" width="45.84" height="45.82" fill="#3c1e5c"/><rect x="1195.09" y="430.04" width="45.84" height="45.82" fill="#dde335"/><rect x="1243.33" y="430.04" width="45.84" height="45.82" fill="#3c1e5c"/><rect x="1291.58" y="430.04" width="45.84" height="45.82" fill="#42246a"/><rect x="1339.82" y="430.04" width="45.84" height="45.82" fill="#3c1e5c"/><rect x="1388.07" y="430.04" width="45.84" height="45.82" fill="#3e1f60"/><rect x="1436.31" y="430.04" width="45.84" height="45.82" fill="#3c1e5c"/><rect x="1484.56" y="430.04" width="45.84" height="45.82" fill="#3c1e5c"/><rect x="1098.60" y="478.27" width="45.84" height="45.82" fill="#3c1e5c"/><rect x="1146.84" y="478.27" width="45.84" height="45.82" fill="#3c1e5c"/><rect x="1195.09" y="478.27" width="45.84" height="45.82" fill="#3c1e5c"/><rect x="1243.33" y="478.27" width="45.84" height="45.82" fill="#f7e437"/><rect x="1291.58" y="478.27" width="45.84" height="45.82" fill="#3c1e5c"/><rect x="1339.82" y="478.27" width="45.84" height="45.82" fill="#3c1e5c"/><rect x="1388.07" y="478.27" width="45.84" height="45.82" fill="#3c1e5c"/><rect x="1436.31" y="478.27" width="45.84" height="45.82" fill="#3e1f60"/><rect x="1484.56" y="478.27" width="45.84" height="45.82" fill="#3c1e5c"/><rect x="1098.60" y="526.49" width="45.84" height="45.82" fill="#3c1e5c"/><rect x="1146.84" y="526.49" width="45.84" height="45.82" fill="#3c1e5c"/><rect x="1195.09" y="526.49" width="45.84" height="45.82" fill="#3c1e5c"/><rect x="1243.33" y="526.49" width="45.84" height="45.82" fill="#3c1e5c"/><rect x="1291.58" y="526.49" width="45.84" height="45.82" fill="#f7e437"/><rect x="1339.82" y="526.49" width="45.84" height="45.82" fill="#3c1e5c"/><rect x="1388.07" y="526.49" width="45.84" height="45.82" fill="#3c1e5c"/><rect x="1436.31" y="526.49" width="45.84" height="45.82" fill="#3c1e5c"/><rect x="1484.56" y="526.49" width="45.84" height="45.82" fill="#3c1e5c"/><rect x="1098.60" y="574.71" width="45.84" height="45.82" fill="#3c1e5c"/><rect x="1146.84" y="574.71" width="45.84" height="45.82" fill="#3c1e5c"/><rect x="1195.09" y="574.71" width="45.84" height="45.82" fill="#3c1e5c"/><rect x="1243.33" y="574.71" width="45.84" height="45.82" fill="#3c1e5c"/><rect x="1291.58" y="574.71" width="45.84" height="45.82" fill="#44276f"/><rect x="1339.82" y="574.71" width="45.84" height="45.82" fill="#d7e237"/><rect x="1388.07" y="574.71" width="45.84" height="45.82" fill="#3c1e5c"/><rect x="1436.31" y="574.71" width="45.84" height="45.82" fill="#3c1e5c"/><rect x="1484.56" y="574.71" width="45.84" height="45.82" fill="#3c1e5c"/><rect x="1098.60" y="622.93" width="45.84" height="45.82" fill="#47398c"/><rect x="1146.84" y="622.93" width="45.84" height="45.82" fill="#3e1f60"/><rect x="1195.09" y="622.93" width="45.84" height="45.82" fill="#402266"/><rect x="1243.33" y="622.93" width="45.84" height="45.82" fill="#42246a"/><rect x="1291.58" y="622.93" width="45.84" height="45.82" fill="#452873"/><rect x="1339.82" y="622.93" width="45.84" height="45.82" fill="#3c1e5c"/><rect x="1388.07" y="622.93" width="45.84" height="45.82" fill="#39b080"/><rect x="1436.31" y="622.93" width="45.84" height="45.82" fill="#483284"/><rect x="1484.56" y="622.93" width="45.84" height="45.82" fill="#3e1f60"/><rect x="1098.60" y="671.16" width="45.84" height="45.82" fill="#414d98"/><rect x="1146.84" y="671.16" width="45.84" height="45.82" fill="#3e1f60"/><rect x="1195.09" y="671.16" width="45.84" height="45.82" fill="#3c1e5c"/><rect x="1243.33" y="671.16" width="45.84" height="45.82" fill="#402266"/><rect x="1291.58" y="671.16" width="45.84" height="45.82" fill="#482e7e"/><rect x="1339.82" y="671.16" width="45.84" height="45.82" fill="#3c1e5c"/><rect x="1388.07" y="671.16" width="45.84" height="45.82" fill="#483284"/><rect x="1436.31" y="671.16" width="45.84" height="45.82" fill="#28a68a"/><rect x="1484.56" y="671.16" width="45.84" height="45.82" fill="#3e1f60"/><rect x="1098.60" y="719.38" width="45.84" height="45.82" fill="#3c1e5c"/><rect x="1146.84" y="719.38" width="45.84" height="45.82" fill="#3c1e5c"/><rect x="1195.09" y="719.38" width="45.84" height="45.82" fill="#3c1e5c"/><rect x="1243.33" y="719.38" width="45.84" height="45.82" fill="#3c1e5c"/><rect x="1291.58" y="719.38" width="45.84" height="45.82" fill="#3c1e5c"/><rect x="1339.82" y="719.38" width="45.84" height="45.82" fill="#3c1e5c"/><rect x="1388.07" y="719.38" width="45.84" height="45.82" fill="#3c1e5c"/><rect x="1436.31" y="719.38" width="45.84" height="45.82" fill="#3c1e5c"/><rect x="1484.56" y="719.38" width="45.84" height="45.82" fill="#fae437"/>
<g font-family="DejaVu Sans, Liberation Sans, sans-serif" font-size="13.80" text-anchor="middle" stroke-width="0.3"><text x="1121.52" y="360.41" fill="#1c1c1c" stroke="#1c1c1c">0.96</text><text x="1169.77" y="360.41" fill="#ffffff" stroke="#ffffff">0.00</text><text x="1218.01" y="360.41" fill="#ffffff" stroke="#ffffff">0.00</text><text x="1266.26" y="360.41" fill="#ffffff" stroke="#ffffff">0.00</text><text x="1314.50" y="360.41" fill="#ffffff" stroke="#ffffff">0.00</text><text x="1362.74" y="360.41" fill="#ffffff" stroke="#ffffff">0.00</text><text x="1410.99" y="360.41" fill="#ffffff" stroke="#ffffff">0.01</text><text x="1459.23" y="360.41" fill="#ffffff" stroke="#ffffff">0.03</text><text x="1507.48" y="360.41" fill="#ffffff" stroke="#ffffff">0.00</text><text x="1121.52" y="408.63" fill="#ffffff" stroke="#ffffff">0.00</text><text x="1169.77" y="408.63" fill="#1c1c1c" stroke="#1c1c1c">0.96</text><text x="1218.01" y="408.63" fill="#ffffff" stroke="#ffffff">0.00</text><text x="1266.26" y="408.63" fill="#ffffff" stroke="#ffffff">0.01</text><text x="1314.50" y="408.63" fill="#ffffff" stroke="#ffffff">0.00</text><text x="1362.74" y="408.63" fill="#ffffff" stroke="#ffffff">0.00</text><text x="1410.99" y="408.63" fill="#ffffff" stroke="#ffffff">0.00</text><text x="1459.23" y="408.63" fill="#ffffff" stroke="#ffffff">0.00</text><text x="1507.48" y="408.63" fill="#ffffff" stroke="#ffffff">0.04</text><text x="1121.52" y="456.86" fill="#ffffff" stroke="#ffffff">0.00</text><text x="1169.77" y="456.86" fill="#ffffff" stroke="#ffffff">0.00</text><text x="1218.01" y="456.86" fill="#1c1c1c" stroke="#1c1c1c">0.96</text><text x="1266.26" y="456.86" fill="#ffffff" stroke="#ffffff">0.00</text><text x="1314.50" y="456.86" fill="#ffffff" stroke="#ffffff">0.03</text><text x="1362.74" y="456.86" fill="#ffffff" stroke="#ffffff">0.00</text><text x="1410.99" y="456.86" fill="#ffffff" stroke="#ffffff">0.01</text><text x="1459.23" y="456.86" fill="#ffffff" stroke="#ffffff">0.00</text><text x="1507.48" y="456.86" fill="#ffffff" stroke="#ffffff">0.00</text><text x="1121.52" y="505.08" fill="#ffffff" stroke="#ffffff">0.00</text><text x="1169.77" y="505.08" fill="#ffffff" stroke="#ffffff">0.00</text><text x="1218.01" y="505.08" fill="#ffffff" stroke="#ffffff">0.00</text><text x="1266.26" y="505.08" fill="#1c1c1c" stroke="#1c1c1c">0.99</text><text x="1314.50" y="505.08" fill="#ffffff" stroke="#ffffff">0.00</text><text x="1362.74" y="505.08" fill="#ffffff" stroke="#ffffff">0.00</text><text x="1410.99" y="505.08" fill="#ffffff" stroke="#ffffff">0.00</text><text x="1459.23" y="505.08" fill="#ffffff" stroke="#ffffff">0.01</text><text x="1507.48" y="505.08" fill="#ffffff" stroke="#ffffff">0.00</text><text x="1121.52" y="553.30" fill="#ffffff" stroke="#ffffff">0.00</text><text x="1169.77" y="553.30" fill="#ffffff" stroke="#ffffff">0.00</text><text x="1218.01" y="553.30" fill="#ffffff" stroke="#ffffff">0.00</text><text x="1266.26" y="553.30" fill="#ffffff" stroke="#ffffff">0.00</text><text x="1314.50" y="553.30" fill="#1c1c1c" stroke="#1c1c1c">0.99</text><text x="1362.74" y="553.30" fill="#ffffff" stroke="#ffffff">0.00</text><text x="1410.99" y="553.30" fill="#ffffff" stroke="#ffffff">0.00</text><text x="1459.23" y="553.30" fill="#ffffff" stroke="#ffffff">0.00</text><text x="1507.48" y="553.30" fill="#ffffff" stroke="#ffffff">0.00</text><text x="1121.52" y="601.52" fill="#ffffff" stroke="#ffffff">0.00</text><text x="1169.77" y="601.52" fill="#ffffff" stroke="#ffffff">0.00</text><text x="1218.01" y="601.52" fill="#ffffff" stroke="#ffffff">0.00</text><text x="1266.26" y="601.52" fill="#ffffff" stroke="#ffffff">0.00</text><text x="1314.50" y="601.52" fill="#ffffff" stroke="#ffffff">0.04</text><text x="1362.74" y="601.52" fill="#1c1c1c" stroke="#1c1c1c">0.95</text><text x="1410.99" y="601.52" fill="#ffffff" stroke="#ffffff">0.00</text><text x="1459.23" y="601.52" fill="#ffffff" stroke="#ffffff">0.00</text><text x="1507.48" y="601.52" fill="#ffffff" stroke="#ffffff">0.00</text><text x="1121.52" y="649.74" fill="#ffffff" stroke="#ffffff">0.13</text><text x="1169.77" y="649.74" fill="#ffffff" stroke="#ffffff">0.01</text><text x="1218.01" y="649.74" fill="#ffffff" stroke="#ffffff">0.02</text><text x="1266.26" y="649.74" fill="#ffffff" stroke="#ffffff">0.03</text><text x="1314.50" y="649.74" fill="#ffffff" stroke="#ffffff">0.05</text><text x="1362.74" y="649.74" fill="#ffffff" stroke="#ffffff">0.00</text><text x="1410.99" y="649.74" fill="#ffffff" stroke="#ffffff">0.66</text><text x="1459.23" y="649.74" fill="#ffffff" stroke="#ffffff">0.10</text><text x="1507.48" y="649.74" fill="#ffffff" stroke="#ffffff">0.01</text><text x="1121.52" y="697.97" fill="#ffffff" stroke="#ffffff">0.20</text><text x="1169.77" y="697.97" fill="#ffffff" stroke="#ffffff">0.01</text><text x="1218.01" y="697.97" fill="#ffffff" stroke="#ffffff">0.00</text><text x="1266.26" y="697.97" fill="#ffffff" stroke="#ffffff">0.02</text><text x="1314.50" y="697.97" fill="#ffffff" stroke="#ffffff">0.08</text><text x="1362.74" y="697.97" fill="#ffffff" stroke="#ffffff">0.00</text><text x="1410.99" y="697.97" fill="#ffffff" stroke="#ffffff">0.10</text><text x="1459.23" y="697.97" fill="#ffffff" stroke="#ffffff">0.59</text><text x="1507.48" y="697.97" fill="#ffffff" stroke="#ffffff">0.01</text><text x="1121.52" y="746.19" fill="#ffffff" stroke="#ffffff">0.00</text><text x="1169.77" y="746.19" fill="#ffffff" stroke="#ffffff">0.00</text><text x="1218.01" y="746.19" fill="#ffffff" stroke="#ffffff">0.00</text><text x="1266.26" y="746.19" fill="#ffffff" stroke="#ffffff">0.00</text><text x="1314.50" y="746.19" fill="#ffffff" stroke="#ffffff">0.00</text><text x="1362.74" y="746.19" fill="#ffffff" stroke="#ffffff">0.00</text><text x="1410.99" y="746.19" fill="#ffffff" stroke="#ffffff">0.00</text><text x="1459.23" y="746.19" fill="#ffffff" stroke="#ffffff">0.00</text><text x="1507.48" y="746.19" fill="#1c1c1c" stroke="#1c1c1c">1.00</text></g>
</g>
<g font-family="Liberation Sans, Arial, Helvetica, sans-serif" font-size="29.17" text-anchor="end">
<text x="123.60" y="370.61" fill="#000000">Normal</text>
<text x="123.60" y="418.83" fill="#ee3f35">–BMP</text>
<text x="123.60" y="467.06" fill="#44308e">+RA</text>
<text x="123.60" y="515.28" fill="#666766">–Wnt</text>
<text x="123.60" y="563.50" fill="#2f6fb7">–FGF</text>
<text x="123.60" y="611.72" fill="#2e8d47">–Nodal</text>
<text x="123.60" y="659.94" fill="#f58732">–Shh</text>
<text x="123.60" y="708.17" fill="#f9e335">–PCP</text>
<text x="123.60" y="756.39" fill="#e60f97">Dead</text>
</g>
<circle cx="151.40" cy="360.71" r="14.80" fill="#fff" stroke="#1a1a1a" stroke-width="1.1"/>
<circle cx="151.40" cy="408.93" r="14.60" fill="#ee3f35"/>
<circle cx="151.40" cy="457.16" r="14.60" fill="#44308e"/>
<circle cx="151.40" cy="505.38" r="14.60" fill="#666766"/>
<circle cx="151.40" cy="553.60" r="14.60" fill="#2f6fb7"/>
<circle cx="151.40" cy="601.82" r="14.60" fill="#2e8d47"/>
<circle cx="151.40" cy="650.04" r="14.60" fill="#f58732"/>
<circle cx="151.40" cy="698.27" r="14.60" fill="#f9e335"/>
<circle cx="151.40" cy="746.49" r="14.60" fill="#e60f97"/>
<circle cx="202.93" cy="790.80" r="14.80" fill="#fff" stroke="#1a1a1a" stroke-width="1.1"/>
<circle cx="251.20" cy="790.80" r="14.60" fill="#ee3f35"/>
<circle cx="299.47" cy="790.80" r="14.60" fill="#44308e"/>
<circle cx="347.73" cy="790.80" r="14.60" fill="#666766"/>
<circle cx="396.00" cy="790.80" r="14.60" fill="#2f6fb7"/>
<circle cx="444.27" cy="790.80" r="14.60" fill="#2e8d47"/>
<circle cx="492.53" cy="790.80" r="14.60" fill="#f58732"/>
<circle cx="540.80" cy="790.80" r="14.60" fill="#f9e335"/>
<circle cx="589.07" cy="790.80" r="14.60" fill="#e60f97"/>
<circle cx="662.23" cy="790.80" r="14.80" fill="#fff" stroke="#1a1a1a" stroke-width="1.1"/>
<circle cx="710.75" cy="790.80" r="14.60" fill="#ee3f35"/>
<circle cx="759.27" cy="790.80" r="14.60" fill="#44308e"/>
<circle cx="807.79" cy="790.80" r="14.60" fill="#666766"/>
<circle cx="856.31" cy="790.80" r="14.60" fill="#2f6fb7"/>
<circle cx="904.83" cy="790.80" r="14.60" fill="#2e8d47"/>
<circle cx="953.35" cy="790.80" r="14.60" fill="#f58732"/>
<circle cx="1001.87" cy="790.80" r="14.60" fill="#f9e335"/>
<circle cx="1050.39" cy="790.80" r="14.60" fill="#e60f97"/>
<circle cx="1121.93" cy="790.80" r="14.80" fill="#fff" stroke="#1a1a1a" stroke-width="1.1"/>
<circle cx="1170.20" cy="790.80" r="14.60" fill="#ee3f35"/>
<circle cx="1218.47" cy="790.80" r="14.60" fill="#44308e"/>
<circle cx="1266.73" cy="790.80" r="14.60" fill="#666766"/>
<circle cx="1315.00" cy="790.80" r="14.60" fill="#2f6fb7"/>
<circle cx="1363.27" cy="790.80" r="14.60" fill="#2e8d47"/>
<circle cx="1411.53" cy="790.80" r="14.60" fill="#f58732"/>
<circle cx="1459.80" cy="790.80" r="14.60" fill="#f9e335"/>
<circle cx="1508.07" cy="790.80" r="14.60" fill="#e60f97"/>
<text transform="translate(22.00 553.80) rotate(-90)" font-family="Liberation Sans, Arial, Helvetica, sans-serif" font-size="29.17" font-weight="bold" text-anchor="middle" fill="#231f20">Ground truth</text>
<text x="848.00" y="843.50" font-family="Liberation Sans, Arial, Helvetica, sans-serif" font-size="29.17" font-weight="bold" text-anchor="middle" fill="#231f20" >Assessor</text>
<defs><linearGradient id="vg" x1="0" y1="1" x2="0" y2="0">
<stop offset="0.000" stop-color="#240048"/>
<stop offset="0.050" stop-color="#2a005f"/>
<stop offset="0.110" stop-color="#2d066e"/>
<stop offset="0.200" stop-color="#2d237d"/>
<stop offset="0.290" stop-color="#2d427d"/>
<stop offset="0.340" stop-color="#30557a"/>
<stop offset="0.400" stop-color="#326976"/>
<stop offset="0.500" stop-color="#378870"/>
<stop offset="0.600" stop-color="#41a86c"/>
<stop offset="0.650" stop-color="#48b268"/>
<stop offset="0.720" stop-color="#5aba5a"/>
<stop offset="0.790" stop-color="#74c646"/>
<stop offset="0.840" stop-color="#96d234"/>
<stop offset="0.920" stop-color="#c8e428"/>
<stop offset="1.000" stop-color="#eef023"/>
</linearGradient></defs>
<rect x="1546.8" y="325.0" width="24.3" height="444.6" fill="url(#vg)"/>
<text x="1575.80" y="335.60" font-family="Liberation Sans, Arial, Helvetica, sans-serif" font-size="20.83"  text-anchor="start" fill="#231f20" >1.0</text>
<text x="1575.80" y="423.40" font-family="Liberation Sans, Arial, Helvetica, sans-serif" font-size="20.83"  text-anchor="start" fill="#231f20" >0.8</text>
<text x="1575.80" y="511.20" font-family="Liberation Sans, Arial, Helvetica, sans-serif" font-size="20.83"  text-anchor="start" fill="#231f20" >0.6</text>
<text x="1575.80" y="599.00" font-family="Liberation Sans, Arial, Helvetica, sans-serif" font-size="20.83"  text-anchor="start" fill="#231f20" >0.4</text>
<text x="1575.80" y="686.80" font-family="Liberation Sans, Arial, Helvetica, sans-serif" font-size="20.83"  text-anchor="start" fill="#231f20" >0.2</text>
<text x="1575.80" y="774.60" font-family="Liberation Sans, Arial, Helvetica, sans-serif" font-size="20.83"  text-anchor="start" fill="#231f20" >0.0</text>
<text transform="translate(1623.60 548.00) rotate(-90)" font-family="Liberation Sans, Arial, Helvetica, sans-serif" font-size="21.80" font-weight="bold" text-anchor="middle" fill="#231f20">Fraction of embryos per class</text>
<text x="179.20" y="951.20" font-family="Liberation Sans, Arial, Helvetica, sans-serif" font-size="37.50" font-weight="bold" text-anchor="start" fill="#231f20" >d</text>
<text x="203.90" y="1099.90" font-family="Liberation Sans, Arial, Helvetica, sans-serif" font-size="29.17" font-weight="bold" text-anchor="start" fill="#231f20" >Evaluation of</text>
<text x="221.20" y="1135.00" font-family="Liberation Sans, Arial, Helvetica, sans-serif" font-size="29.17" font-weight="bold" text-anchor="start" fill="#231f20" >EmbryoNet</text>
<text x="202.00" y="1170.10" font-family="Liberation Sans, Arial, Helvetica, sans-serif" font-size="29.17" font-weight="bold" text-anchor="start" fill="#231f20" >with data sets</text>
<text x="243.50" y="1205.30" font-family="Liberation Sans, Arial, Helvetica, sans-serif" font-size="29.17" font-weight="bold" text-anchor="start" fill="#231f20" >split by</text>
<text x="221.70" y="1240.40" font-family="Liberation Sans, Arial, Helvetica, sans-serif" font-size="29.17" font-weight="bold" text-anchor="start" fill="#231f20" >acquisition</text>
<text x="217.20" y="1275.50" font-family="Liberation Sans, Arial, Helvetica, sans-serif" font-size="29.17" font-weight="bold" text-anchor="start" fill="#231f20" >microscope</text>
<text x="639.00" y="951.20" font-family="Liberation Sans, Arial, Helvetica, sans-serif" font-size="37.50" font-weight="bold" text-anchor="start" fill="#231f20" >d’</text>
<text x="688.00" y="945.90" font-family="Liberation Sans, Arial, Helvetica, sans-serif" font-size="29.00" font-weight="bold" text-anchor="start" fill="#231f20" >Data from microscope 1</text>
<text x="1097.60" y="951.20" font-family="Liberation Sans, Arial, Helvetica, sans-serif" font-size="37.50" font-weight="bold" text-anchor="start" fill="#231f20" >d’’</text>
<text x="1147.20" y="945.90" font-family="Liberation Sans, Arial, Helvetica, sans-serif" font-size="29.00" font-weight="bold" text-anchor="start" fill="#231f20" >Data from microscope 2</text>
<g>
<rect x="639.40" y="966.40" width="45.87" height="45.78" fill="#e4e534"/><rect x="687.67" y="966.40" width="45.87" height="45.78" fill="#3c1e5c"/><rect x="735.93" y="966.40" width="45.87" height="45.78" fill="#3c1e5c"/><rect x="784.20" y="966.40" width="45.87" height="45.78" fill="#3c1e5c"/><rect x="832.47" y="966.40" width="45.87" height="45.78" fill="#3c1e5c"/><rect x="880.73" y="966.40" width="45.87" height="45.78" fill="#3c1e5c"/><rect x="929.00" y="966.40" width="45.87" height="45.78" fill="#42246a"/><rect x="977.27" y="966.40" width="45.87" height="45.78" fill="#3c1e5c"/><rect x="1025.53" y="966.40" width="45.87" height="45.78" fill="#3c1e5c"/><rect x="639.40" y="1014.58" width="45.87" height="45.78" fill="#3c1e5c"/><rect x="687.67" y="1014.58" width="45.87" height="45.78" fill="#d7e237"/><rect x="735.93" y="1014.58" width="45.87" height="45.78" fill="#3c1e5c"/><rect x="784.20" y="1014.58" width="45.87" height="45.78" fill="#3e1f60"/><rect x="832.47" y="1014.58" width="45.87" height="45.78" fill="#3c1e5c"/><rect x="880.73" y="1014.58" width="45.87" height="45.78" fill="#3c1e5c"/><rect x="929.00" y="1014.58" width="45.87" height="45.78" fill="#3c1e5c"/><rect x="977.27" y="1014.58" width="45.87" height="45.78" fill="#3c1e5c"/><rect x="1025.53" y="1014.58" width="45.87" height="45.78" fill="#44276f"/><rect x="639.40" y="1062.76" width="45.87" height="45.78" fill="#3c1e5c"/><rect x="687.67" y="1062.76" width="45.87" height="45.78" fill="#3c1e5c"/><rect x="735.93" y="1062.76" width="45.87" height="45.78" fill="#e4e534"/><rect x="784.20" y="1062.76" width="45.87" height="45.78" fill="#3c1e5c"/><rect x="832.47" y="1062.76" width="45.87" height="45.78" fill="#402266"/><rect x="880.73" y="1062.76" width="45.87" height="45.78" fill="#3c1e5c"/><rect x="929.00" y="1062.76" width="45.87" height="45.78" fill="#3e1f60"/><rect x="977.27" y="1062.76" width="45.87" height="45.78" fill="#3c1e5c"/><rect x="1025.53" y="1062.76" width="45.87" height="45.78" fill="#3c1e5c"/><rect x="639.40" y="1110.93" width="45.87" height="45.78" fill="#3c1e5c"/><rect x="687.67" y="1110.93" width="45.87" height="45.78" fill="#3c1e5c"/><rect x="735.93" y="1110.93" width="45.87" height="45.78" fill="#3c1e5c"/><rect x="784.20" y="1110.93" width="45.87" height="45.78" fill="#dde335"/><rect x="832.47" y="1110.93" width="45.87" height="45.78" fill="#3c1e5c"/><rect x="880.73" y="1110.93" width="45.87" height="45.78" fill="#3c1e5c"/><rect x="929.00" y="1110.93" width="45.87" height="45.78" fill="#3c1e5c"/><rect x="977.27" y="1110.93" width="45.87" height="45.78" fill="#44276f"/><rect x="1025.53" y="1110.93" width="45.87" height="45.78" fill="#3c1e5c"/><rect x="639.40" y="1159.11" width="45.87" height="45.78" fill="#3c1e5c"/><rect x="687.67" y="1159.11" width="45.87" height="45.78" fill="#3c1e5c"/><rect x="735.93" y="1159.11" width="45.87" height="45.78" fill="#3c1e5c"/><rect x="784.20" y="1159.11" width="45.87" height="45.78" fill="#3c1e5c"/><rect x="832.47" y="1159.11" width="45.87" height="45.78" fill="#fae437"/><rect x="880.73" y="1159.11" width="45.87" height="45.78" fill="#3c1e5c"/><rect x="929.00" y="1159.11" width="45.87" height="45.78" fill="#3c1e5c"/><rect x="977.27" y="1159.11" width="45.87" height="45.78" fill="#3c1e5c"/><rect x="1025.53" y="1159.11" width="45.87" height="45.78" fill="#3c1e5c"/><rect x="639.40" y="1207.29" width="45.87" height="45.78" fill="#3e1f60"/><rect x="687.67" y="1207.29" width="45.87" height="45.78" fill="#3c1e5c"/><rect x="735.93" y="1207.29" width="45.87" height="45.78" fill="#3c1e5c"/><rect x="784.20" y="1207.29" width="45.87" height="45.78" fill="#3c1e5c"/><rect x="832.47" y="1207.29" width="45.87" height="45.78" fill="#402266"/><rect x="880.73" y="1207.29" width="45.87" height="45.78" fill="#e4e534"/><rect x="929.00" y="1207.29" width="45.87" height="45.78" fill="#3c1e5c"/><rect x="977.27" y="1207.29" width="45.87" height="45.78" fill="#3c1e5c"/><rect x="1025.53" y="1207.29" width="45.87" height="45.78" fill="#3c1e5c"/><rect x="639.40" y="1255.47" width="45.87" height="45.78" fill="#444495"/><rect x="687.67" y="1255.47" width="45.87" height="45.78" fill="#3e1f60"/><rect x="735.93" y="1255.47" width="45.87" height="45.78" fill="#402266"/><rect x="784.20" y="1255.47" width="45.87" height="45.78" fill="#44276f"/><rect x="832.47" y="1255.47" width="45.87" height="45.78" fill="#472b78"/><rect x="880.73" y="1255.47" width="45.87" height="45.78" fill="#3c1e5c"/><rect x="929.00" y="1255.47" width="45.87" height="45.78" fill="#24a08f"/><rect x="977.27" y="1255.47" width="45.87" height="45.78" fill="#463b8e"/><rect x="1025.53" y="1255.47" width="45.87" height="45.78" fill="#3e1f60"/><rect x="639.40" y="1303.64" width="45.87" height="45.78" fill="#472c7b"/><rect x="687.67" y="1303.64" width="45.87" height="45.78" fill="#42246a"/><rect x="735.93" y="1303.64" width="45.87" height="45.78" fill="#3c1e5c"/><rect x="784.20" y="1303.64" width="45.87" height="45.78" fill="#3c1e5c"/><rect x="832.47" y="1303.64" width="45.87" height="45.78" fill="#472c7b"/><rect x="880.73" y="1303.64" width="45.87" height="45.78" fill="#3c1e5c"/><rect x="929.00" y="1303.64" width="45.87" height="45.78" fill="#2a8495"/><rect x="977.27" y="1303.64" width="45.87" height="45.78" fill="#2f7497"/><rect x="1025.53" y="1303.64" width="45.87" height="45.78" fill="#42246a"/><rect x="639.40" y="1351.82" width="45.87" height="45.78" fill="#3c1e5c"/><rect x="687.67" y="1351.82" width="45.87" height="45.78" fill="#3c1e5c"/><rect x="735.93" y="1351.82" width="45.87" height="45.78" fill="#3c1e5c"/><rect x="784.20" y="1351.82" width="45.87" height="45.78" fill="#3c1e5c"/><rect x="832.47" y="1351.82" width="45.87" height="45.78" fill="#3c1e5c"/><rect x="880.73" y="1351.82" width="45.87" height="45.78" fill="#3c1e5c"/><rect x="929.00" y="1351.82" width="45.87" height="45.78" fill="#3c1e5c"/><rect x="977.27" y="1351.82" width="45.87" height="45.78" fill="#3c1e5c"/><rect x="1025.53" y="1351.82" width="45.87" height="45.78" fill="#fae437"/>
<g font-family="DejaVu Sans, Liberation Sans, sans-serif" font-size="13.80" text-anchor="middle" stroke-width="0.3"><text x="662.33" y="993.19" fill="#1c1c1c" stroke="#1c1c1c">0.97</text><text x="710.60" y="993.19" fill="#ffffff" stroke="#ffffff">0.00</text><text x="758.87" y="993.19" fill="#ffffff" stroke="#ffffff">0.00</text><text x="807.13" y="993.19" fill="#ffffff" stroke="#ffffff">0.00</text><text x="855.40" y="993.19" fill="#ffffff" stroke="#ffffff">0.00</text><text x="903.67" y="993.19" fill="#ffffff" stroke="#ffffff">0.00</text><text x="951.93" y="993.19" fill="#ffffff" stroke="#ffffff">0.03</text><text x="1000.20" y="993.19" fill="#ffffff" stroke="#ffffff">0.00</text><text x="1048.47" y="993.19" fill="#ffffff" stroke="#ffffff">0.00</text><text x="662.33" y="1041.37" fill="#ffffff" stroke="#ffffff">0.00</text><text x="710.60" y="1041.37" fill="#1c1c1c" stroke="#1c1c1c">0.95</text><text x="758.87" y="1041.37" fill="#ffffff" stroke="#ffffff">0.00</text><text x="807.13" y="1041.37" fill="#ffffff" stroke="#ffffff">0.01</text><text x="855.40" y="1041.37" fill="#ffffff" stroke="#ffffff">0.00</text><text x="903.67" y="1041.37" fill="#ffffff" stroke="#ffffff">0.00</text><text x="951.93" y="1041.37" fill="#ffffff" stroke="#ffffff">0.00</text><text x="1000.20" y="1041.37" fill="#ffffff" stroke="#ffffff">0.00</text><text x="1048.47" y="1041.37" fill="#ffffff" stroke="#ffffff">0.04</text><text x="662.33" y="1089.54" fill="#ffffff" stroke="#ffffff">0.00</text><text x="710.60" y="1089.54" fill="#ffffff" stroke="#ffffff">0.00</text><text x="758.87" y="1089.54" fill="#1c1c1c" stroke="#1c1c1c">0.97</text><text x="807.13" y="1089.54" fill="#ffffff" stroke="#ffffff">0.00</text><text x="855.40" y="1089.54" fill="#ffffff" stroke="#ffffff">0.02</text><text x="903.67" y="1089.54" fill="#ffffff" stroke="#ffffff">0.00</text><text x="951.93" y="1089.54" fill="#ffffff" stroke="#ffffff">0.01</text><text x="1000.20" y="1089.54" fill="#ffffff" stroke="#ffffff">0.00</text><text x="1048.47" y="1089.54" fill="#ffffff" stroke="#ffffff">0.00</text><text x="662.33" y="1137.72" fill="#ffffff" stroke="#ffffff">0.00</text><text x="710.60" y="1137.72" fill="#ffffff" stroke="#ffffff">0.00</text><text x="758.87" y="1137.72" fill="#ffffff" stroke="#ffffff">0.00</text><text x="807.13" y="1137.72" fill="#1c1c1c" stroke="#1c1c1c">0.96</text><text x="855.40" y="1137.72" fill="#ffffff" stroke="#ffffff">0.00</text><text x="903.67" y="1137.72" fill="#ffffff" stroke="#ffffff">0.00</text><text x="951.93" y="1137.72" fill="#ffffff" stroke="#ffffff">0.00</text><text x="1000.20" y="1137.72" fill="#ffffff" stroke="#ffffff">0.04</text><text x="1048.47" y="1137.72" fill="#ffffff" stroke="#ffffff">0.00</text><text x="662.33" y="1185.90" fill="#ffffff" stroke="#ffffff">0.00</text><text x="710.60" y="1185.90" fill="#ffffff" stroke="#ffffff">0.00</text><text x="758.87" y="1185.90" fill="#ffffff" stroke="#ffffff">0.00</text><text x="807.13" y="1185.90" fill="#ffffff" stroke="#ffffff">0.00</text><text x="855.40" y="1185.90" fill="#1c1c1c" stroke="#1c1c1c">1.00</text><text x="903.67" y="1185.90" fill="#ffffff" stroke="#ffffff">0.00</text><text x="951.93" y="1185.90" fill="#ffffff" stroke="#ffffff">0.00</text><text x="1000.20" y="1185.90" fill="#ffffff" stroke="#ffffff">0.00</text><text x="1048.47" y="1185.90" fill="#ffffff" stroke="#ffffff">0.00</text><text x="662.33" y="1234.08" fill="#ffffff" stroke="#ffffff">0.01</text><text x="710.60" y="1234.08" fill="#ffffff" stroke="#ffffff">0.00</text><text x="758.87" y="1234.08" fill="#ffffff" stroke="#ffffff">0.00</text><text x="807.13" y="1234.08" fill="#ffffff" stroke="#ffffff">0.00</text><text x="855.40" y="1234.08" fill="#ffffff" stroke="#ffffff">0.02</text><text x="903.67" y="1234.08" fill="#1c1c1c" stroke="#1c1c1c">0.97</text><text x="951.93" y="1234.08" fill="#ffffff" stroke="#ffffff">0.00</text><text x="1000.20" y="1234.08" fill="#ffffff" stroke="#ffffff">0.00</text><text x="1048.47" y="1234.08" fill="#ffffff" stroke="#ffffff">0.00</text><text x="662.33" y="1282.26" fill="#ffffff" stroke="#ffffff">0.17</text><text x="710.60" y="1282.26" fill="#ffffff" stroke="#ffffff">0.01</text><text x="758.87" y="1282.26" fill="#ffffff" stroke="#ffffff">0.02</text><text x="807.13" y="1282.26" fill="#ffffff" stroke="#ffffff">0.04</text><text x="855.40" y="1282.26" fill="#ffffff" stroke="#ffffff">0.06</text><text x="903.67" y="1282.26" fill="#ffffff" stroke="#ffffff">0.00</text><text x="951.93" y="1282.26" fill="#ffffff" stroke="#ffffff">0.55</text><text x="1000.20" y="1282.26" fill="#ffffff" stroke="#ffffff">0.14</text><text x="1048.47" y="1282.26" fill="#ffffff" stroke="#ffffff">0.01</text><text x="662.33" y="1330.43" fill="#ffffff" stroke="#ffffff">0.07</text><text x="710.60" y="1330.43" fill="#ffffff" stroke="#ffffff">0.03</text><text x="758.87" y="1330.43" fill="#ffffff" stroke="#ffffff">0.00</text><text x="807.13" y="1330.43" fill="#ffffff" stroke="#ffffff">0.00</text><text x="855.40" y="1330.43" fill="#ffffff" stroke="#ffffff">0.07</text><text x="903.67" y="1330.43" fill="#ffffff" stroke="#ffffff">0.00</text><text x="951.93" y="1330.43" fill="#ffffff" stroke="#ffffff">0.43</text><text x="1000.20" y="1330.43" fill="#ffffff" stroke="#ffffff">0.37</text><text x="1048.47" y="1330.43" fill="#ffffff" stroke="#ffffff">0.03</text><text x="662.33" y="1378.61" fill="#ffffff" stroke="#ffffff">0.00</text><text x="710.60" y="1378.61" fill="#ffffff" stroke="#ffffff">0.00</text><text x="758.87" y="1378.61" fill="#ffffff" stroke="#ffffff">0.00</text><text x="807.13" y="1378.61" fill="#ffffff" stroke="#ffffff">0.00</text><text x="855.40" y="1378.61" fill="#ffffff" stroke="#ffffff">0.00</text><text x="903.67" y="1378.61" fill="#ffffff" stroke="#ffffff">0.00</text><text x="951.93" y="1378.61" fill="#ffffff" stroke="#ffffff">0.00</text><text x="1000.20" y="1378.61" fill="#ffffff" stroke="#ffffff">0.00</text><text x="1048.47" y="1378.61" fill="#1c1c1c" stroke="#1c1c1c">1.00</text></g>
</g>
<g>
<rect x="1098.50" y="966.40" width="45.87" height="45.78" fill="#d0e038"/><rect x="1146.77" y="966.40" width="45.87" height="45.78" fill="#3c1e5c"/><rect x="1195.03" y="966.40" width="45.87" height="45.78" fill="#3c1e5c"/><rect x="1243.30" y="966.40" width="45.87" height="45.78" fill="#3c1e5c"/><rect x="1291.57" y="966.40" width="45.87" height="45.78" fill="#3c1e5c"/><rect x="1339.83" y="966.40" width="45.87" height="45.78" fill="#3c1e5c"/><rect x="1388.10" y="966.40" width="45.87" height="45.78" fill="#3c1e5c"/><rect x="1436.37" y="966.40" width="45.87" height="45.78" fill="#472b78"/><rect x="1484.63" y="966.40" width="45.87" height="45.78" fill="#3c1e5c"/><rect x="1098.50" y="1014.58" width="45.87" height="45.78" fill="#3c1e5c"/><rect x="1146.77" y="1014.58" width="45.87" height="45.78" fill="#dde335"/><rect x="1195.03" y="1014.58" width="45.87" height="45.78" fill="#3c1e5c"/><rect x="1243.30" y="1014.58" width="45.87" height="45.78" fill="#3c1e5c"/><rect x="1291.57" y="1014.58" width="45.87" height="45.78" fill="#3c1e5c"/><rect x="1339.83" y="1014.58" width="45.87" height="45.78" fill="#3c1e5c"/><rect x="1388.10" y="1014.58" width="45.87" height="45.78" fill="#3c1e5c"/><rect x="1436.37" y="1014.58" width="45.87" height="45.78" fill="#3c1e5c"/><rect x="1484.63" y="1014.58" width="45.87" height="45.78" fill="#44276f"/><rect x="1098.50" y="1062.76" width="45.87" height="45.78" fill="#3c1e5c"/><rect x="1146.77" y="1062.76" width="45.87" height="45.78" fill="#3c1e5c"/><rect x="1195.03" y="1062.76" width="45.87" height="45.78" fill="#d7e237"/><rect x="1243.30" y="1062.76" width="45.87" height="45.78" fill="#3c1e5c"/><rect x="1291.57" y="1062.76" width="45.87" height="45.78" fill="#452873"/><rect x="1339.83" y="1062.76" width="45.87" height="45.78" fill="#3c1e5c"/><rect x="1388.10" y="1062.76" width="45.87" height="45.78" fill="#3c1e5c"/><rect x="1436.37" y="1062.76" width="45.87" height="45.78" fill="#3c1e5c"/><rect x="1484.63" y="1062.76" width="45.87" height="45.78" fill="#3c1e5c"/><rect x="1098.50" y="1110.93" width="45.87" height="45.78" fill="#3c1e5c"/><rect x="1146.77" y="1110.93" width="45.87" height="45.78" fill="#3c1e5c"/><rect x="1195.03" y="1110.93" width="45.87" height="45.78" fill="#3c1e5c"/><rect x="1243.30" y="1110.93" width="45.87" height="45.78" fill="#fae437"/><rect x="1291.57" y="1110.93" width="45.87" height="45.78" fill="#3c1e5c"/><rect x="1339.83" y="1110.93" width="45.87" height="45.78" fill="#3c1e5c"/><rect x="1388.10" y="1110.93" width="45.87" height="45.78" fill="#3c1e5c"/><rect x="1436.37" y="1110.93" width="45.87" height="45.78" fill="#3c1e5c"/><rect x="1484.63" y="1110.93" width="45.87" height="45.78" fill="#3c1e5c"/><rect x="1098.50" y="1159.11" width="45.87" height="45.78" fill="#3c1e5c"/><rect x="1146.77" y="1159.11" width="45.87" height="45.78" fill="#3c1e5c"/><rect x="1195.03" y="1159.11" width="45.87" height="45.78" fill="#3c1e5c"/><rect x="1243.30" y="1159.11" width="45.87" height="45.78" fill="#3c1e5c"/><rect x="1291.57" y="1159.11" width="45.87" height="45.78" fill="#f7e437"/><rect x="1339.83" y="1159.11" width="45.87" height="45.78" fill="#3e1f60"/><rect x="1388.10" y="1159.11" width="45.87" height="45.78" fill="#3c1e5c"/><rect x="1436.37" y="1159.11" width="45.87" height="45.78" fill="#3c1e5c"/><rect x="1484.63" y="1159.11" width="45.87" height="45.78" fill="#3c1e5c"/><rect x="1098.50" y="1207.29" width="45.87" height="45.78" fill="#3c1e5c"/><rect x="1146.77" y="1207.29" width="45.87" height="45.78" fill="#3c1e5c"/><rect x="1195.03" y="1207.29" width="45.87" height="45.78" fill="#3c1e5c"/><rect x="1243.30" y="1207.29" width="45.87" height="45.78" fill="#3c1e5c"/><rect x="1291.57" y="1207.29" width="45.87" height="45.78" fill="#472b78"/><rect x="1339.83" y="1207.29" width="45.87" height="45.78" fill="#d0e038"/><rect x="1388.10" y="1207.29" width="45.87" height="45.78" fill="#3c1e5c"/><rect x="1436.37" y="1207.29" width="45.87" height="45.78" fill="#3c1e5c"/><rect x="1484.63" y="1207.29" width="45.87" height="45.78" fill="#3c1e5c"/><rect x="1098.50" y="1255.47" width="45.87" height="45.78" fill="#3c1e5c"/><rect x="1146.77" y="1255.47" width="45.87" height="45.78" fill="#3c1e5c"/><rect x="1195.03" y="1255.47" width="45.87" height="45.78" fill="#3c1e5c"/><rect x="1243.30" y="1255.47" width="45.87" height="45.78" fill="#3c1e5c"/><rect x="1291.57" y="1255.47" width="45.87" height="45.78" fill="#3c1e5c"/><rect x="1339.83" y="1255.47" width="45.87" height="45.78" fill="#3c1e5c"/><rect x="1388.10" y="1255.47" width="45.87" height="45.78" fill="#fae437"/><rect x="1436.37" y="1255.47" width="45.87" height="45.78" fill="#3c1e5c"/><rect x="1484.63" y="1255.47" width="45.87" height="45.78" fill="#3c1e5c"/><rect x="1098.50" y="1303.64" width="45.87" height="45.78" fill="#3e5499"/><rect x="1146.77" y="1303.64" width="45.87" height="45.78" fill="#3c1e5c"/><rect x="1195.03" y="1303.64" width="45.87" height="45.78" fill="#3c1e5c"/><rect x="1243.30" y="1303.64" width="45.87" height="45.78" fill="#42246a"/><rect x="1291.57" y="1303.64" width="45.87" height="45.78" fill="#482e7e"/><rect x="1339.83" y="1303.64" width="45.87" height="45.78" fill="#3c1e5c"/><rect x="1388.10" y="1303.64" width="45.87" height="45.78" fill="#3e1f60"/><rect x="1436.37" y="1303.64" width="45.87" height="45.78" fill="#33ad83"/><rect x="1484.63" y="1303.64" width="45.87" height="45.78" fill="#3c1e5c"/><rect x="1098.50" y="1351.82" width="45.87" height="45.78" fill="#3c1e5c"/><rect x="1146.77" y="1351.82" width="45.87" height="45.78" fill="#3c1e5c"/><rect x="1195.03" y="1351.82" width="45.87" height="45.78" fill="#3c1e5c"/><rect x="1243.30" y="1351.82" width="45.87" height="45.78" fill="#3c1e5c"/><rect x="1291.57" y="1351.82" width="45.87" height="45.78" fill="#3c1e5c"/><rect x="1339.83" y="1351.82" width="45.87" height="45.78" fill="#3c1e5c"/><rect x="1388.10" y="1351.82" width="45.87" height="45.78" fill="#3c1e5c"/><rect x="1436.37" y="1351.82" width="45.87" height="45.78" fill="#3c1e5c"/><rect x="1484.63" y="1351.82" width="45.87" height="45.78" fill="#f7e437"/>
<g font-family="DejaVu Sans, Liberation Sans, sans-serif" font-size="13.80" text-anchor="middle" stroke-width="0.3"><text x="1121.43" y="993.19" fill="#1c1c1c" stroke="#1c1c1c">0.94</text><text x="1169.70" y="993.19" fill="#ffffff" stroke="#ffffff">0.00</text><text x="1217.97" y="993.19" fill="#ffffff" stroke="#ffffff">0.00</text><text x="1266.23" y="993.19" fill="#ffffff" stroke="#ffffff">0.00</text><text x="1314.50" y="993.19" fill="#ffffff" stroke="#ffffff">0.00</text><text x="1362.77" y="993.19" fill="#ffffff" stroke="#ffffff">0.00</text><text x="1411.03" y="993.19" fill="#ffffff" stroke="#ffffff">0.00</text><text x="1459.30" y="993.19" fill="#ffffff" stroke="#ffffff">0.06</text><text x="1507.57" y="993.19" fill="#ffffff" stroke="#ffffff">0.00</text><text x="1121.43" y="1041.37" fill="#ffffff" stroke="#ffffff">0.00</text><text x="1169.70" y="1041.37" fill="#1c1c1c" stroke="#1c1c1c">0.96</text><text x="1217.97" y="1041.37" fill="#ffffff" stroke="#ffffff">0.00</text><text x="1266.23" y="1041.37" fill="#ffffff" stroke="#ffffff">0.00</text><text x="1314.50" y="1041.37" fill="#ffffff" stroke="#ffffff">0.00</text><text x="1362.77" y="1041.37" fill="#ffffff" stroke="#ffffff">0.00</text><text x="1411.03" y="1041.37" fill="#ffffff" stroke="#ffffff">0.00</text><text x="1459.30" y="1041.37" fill="#ffffff" stroke="#ffffff">0.00</text><text x="1507.57" y="1041.37" fill="#ffffff" stroke="#ffffff">0.04</text><text x="1121.43" y="1089.54" fill="#ffffff" stroke="#ffffff">0.00</text><text x="1169.70" y="1089.54" fill="#ffffff" stroke="#ffffff">0.00</text><text x="1217.97" y="1089.54" fill="#1c1c1c" stroke="#1c1c1c">0.95</text><text x="1266.23" y="1089.54" fill="#ffffff" stroke="#ffffff">0.00</text><text x="1314.50" y="1089.54" fill="#ffffff" stroke="#ffffff">0.05</text><text x="1362.77" y="1089.54" fill="#ffffff" stroke="#ffffff">0.00</text><text x="1411.03" y="1089.54" fill="#ffffff" stroke="#ffffff">0.00</text><text x="1459.30" y="1089.54" fill="#ffffff" stroke="#ffffff">0.00</text><text x="1507.57" y="1089.54" fill="#ffffff" stroke="#ffffff">0.00</text><text x="1121.43" y="1137.72" fill="#ffffff" stroke="#ffffff">0.00</text><text x="1169.70" y="1137.72" fill="#ffffff" stroke="#ffffff">0.00</text><text x="1217.97" y="1137.72" fill="#ffffff" stroke="#ffffff">0.00</text><text x="1266.23" y="1137.72" fill="#1c1c1c" stroke="#1c1c1c">1.00</text><text x="1314.50" y="1137.72" fill="#ffffff" stroke="#ffffff">0.00</text><text x="1362.77" y="1137.72" fill="#ffffff" stroke="#ffffff">0.00</text><text x="1411.03" y="1137.72" fill="#ffffff" stroke="#ffffff">0.00</text><text x="1459.30" y="1137.72" fill="#ffffff" stroke="#ffffff">0.00</text><text x="1507.57" y="1137.72" fill="#ffffff" stroke="#ffffff">0.00</text><text x="1121.43" y="1185.90" fill="#ffffff" stroke="#ffffff">0.00</text><text x="1169.70" y="1185.90" fill="#ffffff" stroke="#ffffff">0.00</text><text x="1217.97" y="1185.90" fill="#ffffff" stroke="#ffffff">0.00</text><text x="1266.23" y="1185.90" fill="#ffffff" stroke="#ffffff">0.00</text><text x="1314.50" y="1185.90" fill="#1c1c1c" stroke="#1c1c1c">0.99</text><text x="1362.77" y="1185.90" fill="#ffffff" stroke="#ffffff">0.01</text><text x="1411.03" y="1185.90" fill="#ffffff" stroke="#ffffff">0.00</text><text x="1459.30" y="1185.90" fill="#ffffff" stroke="#ffffff">0.00</text><text x="1507.57" y="1185.90" fill="#ffffff" stroke="#ffffff">0.00</text><text x="1121.43" y="1234.08" fill="#ffffff" stroke="#ffffff">0.00</text><text x="1169.70" y="1234.08" fill="#ffffff" stroke="#ffffff">0.00</text><text x="1217.97" y="1234.08" fill="#ffffff" stroke="#ffffff">0.00</text><text x="1266.23" y="1234.08" fill="#ffffff" stroke="#ffffff">0.00</text><text x="1314.50" y="1234.08" fill="#ffffff" stroke="#ffffff">0.06</text><text x="1362.77" y="1234.08" fill="#1c1c1c" stroke="#1c1c1c">0.94</text><text x="1411.03" y="1234.08" fill="#ffffff" stroke="#ffffff">0.00</text><text x="1459.30" y="1234.08" fill="#ffffff" stroke="#ffffff">0.00</text><text x="1507.57" y="1234.08" fill="#ffffff" stroke="#ffffff">0.00</text><text x="1121.43" y="1282.26" fill="#ffffff" stroke="#ffffff">0.00</text><text x="1169.70" y="1282.26" fill="#ffffff" stroke="#ffffff">0.00</text><text x="1217.97" y="1282.26" fill="#ffffff" stroke="#ffffff">0.00</text><text x="1266.23" y="1282.26" fill="#ffffff" stroke="#ffffff">0.00</text><text x="1314.50" y="1282.26" fill="#ffffff" stroke="#ffffff">0.00</text><text x="1362.77" y="1282.26" fill="#ffffff" stroke="#ffffff">0.00</text><text x="1411.03" y="1282.26" fill="#1c1c1c" stroke="#1c1c1c">1.00</text><text x="1459.30" y="1282.26" fill="#ffffff" stroke="#ffffff">0.00</text><text x="1507.57" y="1282.26" fill="#ffffff" stroke="#ffffff">0.00</text><text x="1121.43" y="1330.43" fill="#ffffff" stroke="#ffffff">0.23</text><text x="1169.70" y="1330.43" fill="#ffffff" stroke="#ffffff">0.00</text><text x="1217.97" y="1330.43" fill="#ffffff" stroke="#ffffff">0.00</text><text x="1266.23" y="1330.43" fill="#ffffff" stroke="#ffffff">0.03</text><text x="1314.50" y="1330.43" fill="#ffffff" stroke="#ffffff">0.08</text><text x="1362.77" y="1330.43" fill="#ffffff" stroke="#ffffff">0.00</text><text x="1411.03" y="1330.43" fill="#ffffff" stroke="#ffffff">0.01</text><text x="1459.30" y="1330.43" fill="#ffffff" stroke="#ffffff">0.64</text><text x="1507.57" y="1330.43" fill="#ffffff" stroke="#ffffff">0.00</text><text x="1121.43" y="1378.61" fill="#ffffff" stroke="#ffffff">0.00</text><text x="1169.70" y="1378.61" fill="#ffffff" stroke="#ffffff">0.00</text><text x="1217.97" y="1378.61" fill="#ffffff" stroke="#ffffff">0.00</text><text x="1266.23" y="1378.61" fill="#ffffff" stroke="#ffffff">0.00</text><text x="1314.50" y="1378.61" fill="#ffffff" stroke="#ffffff">0.00</text><text x="1362.77" y="1378.61" fill="#ffffff" stroke="#ffffff">0.00</text><text x="1411.03" y="1378.61" fill="#ffffff" stroke="#ffffff">0.00</text><text x="1459.30" y="1378.61" fill="#ffffff" stroke="#ffffff">0.00</text><text x="1507.57" y="1378.61" fill="#1c1c1c" stroke="#1c1c1c">0.99</text></g>
</g>
<g font-family="Liberation Sans, Arial, Helvetica, sans-serif" font-size="29.17" text-anchor="end">
<text x="585.20" y="997.59" fill="#000000">Normal</text>
<text x="585.20" y="1045.77" fill="#ee3f35">–BMP</text>
<text x="585.20" y="1093.94" fill="#44308e">+RA</text>
<text x="585.20" y="1142.12" fill="#666766">–Wnt</text>
<text x="585.20" y="1190.30" fill="#2f6fb7">–FGF</text>
<text x="585.20" y="1238.48" fill="#2e8d47">–Nodal</text>
<text x="585.20" y="1286.66" fill="#f58732">–Shh</text>
<text x="585.20" y="1334.83" fill="#f9e335">–PCP</text>
<text x="585.20" y="1383.01" fill="#e60f97">Dead</text>
</g>
<circle cx="613.30" cy="988.29" r="14.80" fill="#fff" stroke="#1a1a1a" stroke-width="1.1"/>
<circle cx="613.30" cy="1036.47" r="14.60" fill="#ee3f35"/>
<circle cx="613.30" cy="1084.64" r="14.60" fill="#44308e"/>
<circle cx="613.30" cy="1132.82" r="14.60" fill="#666766"/>
<circle cx="613.30" cy="1181.00" r="14.60" fill="#2f6fb7"/>
<circle cx="613.30" cy="1229.18" r="14.60" fill="#2e8d47"/>
<circle cx="613.30" cy="1277.36" r="14.60" fill="#f58732"/>
<circle cx="613.30" cy="1325.53" r="14.60" fill="#f9e335"/>
<circle cx="613.30" cy="1373.71" r="14.60" fill="#e60f97"/>
<circle cx="662.33" cy="1426.70" r="14.80" fill="#fff" stroke="#1a1a1a" stroke-width="1.1"/>
<circle cx="710.79" cy="1426.70" r="14.60" fill="#ee3f35"/>
<circle cx="759.25" cy="1426.70" r="14.60" fill="#44308e"/>
<circle cx="807.71" cy="1426.70" r="14.60" fill="#666766"/>
<circle cx="856.17" cy="1426.70" r="14.60" fill="#2f6fb7"/>
<circle cx="904.63" cy="1426.70" r="14.60" fill="#2e8d47"/>
<circle cx="953.09" cy="1426.70" r="14.60" fill="#f58732"/>
<circle cx="1001.55" cy="1426.70" r="14.60" fill="#f9e335"/>
<circle cx="1050.01" cy="1426.70" r="14.60" fill="#e60f97"/>
<circle cx="1122.23" cy="1426.70" r="14.80" fill="#fff" stroke="#1a1a1a" stroke-width="1.1"/>
<circle cx="1170.50" cy="1426.70" r="14.60" fill="#ee3f35"/>
<circle cx="1218.77" cy="1426.70" r="14.60" fill="#44308e"/>
<circle cx="1267.03" cy="1426.70" r="14.60" fill="#666766"/>
<circle cx="1315.30" cy="1426.70" r="14.60" fill="#2f6fb7"/>
<circle cx="1363.57" cy="1426.70" r="14.60" fill="#2e8d47"/>
<circle cx="1411.83" cy="1426.70" r="14.60" fill="#f58732"/>
<circle cx="1460.10" cy="1426.70" r="14.60" fill="#f9e335"/>
<circle cx="1508.37" cy="1426.70" r="14.60" fill="#e60f97"/>
<text transform="translate(485.40 1181.00) rotate(-90)" font-family="Liberation Sans, Arial, Helvetica, sans-serif" font-size="29.17" font-weight="bold" text-anchor="middle" fill="#231f20">Ground truth</text>
<text x="1245.20" y="1484.70" font-family="Liberation Sans, Arial, Helvetica, sans-serif" font-size="29.17" font-weight="bold" text-anchor="end" fill="#231f20" >EmbryoNet assessment</text>
<text x="178.80" y="1588.00" font-family="Liberation Sans, Arial, Helvetica, sans-serif" font-size="37.50" font-weight="bold" text-anchor="start" fill="#231f20" >e</text>
<text x="203.90" y="1739.00" font-family="Liberation Sans, Arial, Helvetica, sans-serif" font-size="29.17" font-weight="bold" text-anchor="start" fill="#231f20" >Evaluation of</text>
<text x="175.00" y="1774.10" font-family="Liberation Sans, Arial, Helvetica, sans-serif" font-size="29.17" font-weight="bold" text-anchor="start" fill="#231f20" >EmbryoNet-Prime</text>
<text x="202.00" y="1809.20" font-family="Liberation Sans, Arial, Helvetica, sans-serif" font-size="29.17" font-weight="bold" text-anchor="start" fill="#231f20" >with data sets</text>
<text x="243.50" y="1844.40" font-family="Liberation Sans, Arial, Helvetica, sans-serif" font-size="29.17" font-weight="bold" text-anchor="start" fill="#231f20" >split by</text>
<text x="221.70" y="1879.50" font-family="Liberation Sans, Arial, Helvetica, sans-serif" font-size="29.17" font-weight="bold" text-anchor="start" fill="#231f20" >acquisition</text>
<text x="217.20" y="1914.60" font-family="Liberation Sans, Arial, Helvetica, sans-serif" font-size="29.17" font-weight="bold" text-anchor="start" fill="#231f20" >microscope</text>
<text x="638.10" y="1588.00" font-family="Liberation Sans, Arial, Helvetica, sans-serif" font-size="37.50" font-weight="bold" text-anchor="start" fill="#231f20" >e’</text>
<text x="687.60" y="1586.20" font-family="Liberation Sans, Arial, Helvetica, sans-serif" font-size="29.00" font-weight="bold" text-anchor="start" fill="#231f20" >Data from microscope 1</text>
<text x="1097.40" y="1588.00" font-family="Liberation Sans, Arial, Helvetica, sans-serif" font-size="37.50" font-weight="bold" text-anchor="start" fill="#231f20" >e’’</text>
<text x="1147.00" y="1586.20" font-family="Liberation Sans, Arial, Helvetica, sans-serif" font-size="29.00" font-weight="bold" text-anchor="start" fill="#231f20" >Data from microscope 2</text>
<g>
<rect x="637.10" y="1601.30" width="45.83" height="45.76" fill="#a0d14c"/><rect x="685.33" y="1601.30" width="45.83" height="45.76" fill="#3c1e5c"/><rect x="733.57" y="1601.30" width="45.83" height="45.76" fill="#3c1e5c"/><rect x="781.80" y="1601.30" width="45.83" height="45.76" fill="#3c1e5c"/><rect x="830.03" y="1601.30" width="45.83" height="45.76" fill="#3c1e5c"/><rect x="878.27" y="1601.30" width="45.83" height="45.76" fill="#3c1e5c"/><rect x="926.50" y="1601.30" width="45.83" height="45.76" fill="#47398c"/><rect x="974.73" y="1601.30" width="45.83" height="45.76" fill="#3c1e5c"/><rect x="1022.97" y="1601.30" width="45.83" height="45.76" fill="#3c1e5c"/><rect x="637.10" y="1649.46" width="45.83" height="45.76" fill="#3c1e5c"/><rect x="685.33" y="1649.46" width="45.83" height="45.76" fill="#c2dc3b"/><rect x="733.57" y="1649.46" width="45.83" height="45.76" fill="#3c1e5c"/><rect x="781.80" y="1649.46" width="45.83" height="45.76" fill="#3e1f60"/><rect x="830.03" y="1649.46" width="45.83" height="45.76" fill="#3c1e5c"/><rect x="878.27" y="1649.46" width="45.83" height="45.76" fill="#3c1e5c"/><rect x="926.50" y="1649.46" width="45.83" height="45.76" fill="#3c1e5c"/><rect x="974.73" y="1649.46" width="45.83" height="45.76" fill="#3c1e5c"/><rect x="1022.97" y="1649.46" width="45.83" height="45.76" fill="#472b78"/><rect x="637.10" y="1697.61" width="45.83" height="45.76" fill="#3c1e5c"/><rect x="685.33" y="1697.61" width="45.83" height="45.76" fill="#3c1e5c"/><rect x="733.57" y="1697.61" width="45.83" height="45.76" fill="#d0e038"/><rect x="781.80" y="1697.61" width="45.83" height="45.76" fill="#3c1e5c"/><rect x="830.03" y="1697.61" width="45.83" height="45.76" fill="#402266"/><rect x="878.27" y="1697.61" width="45.83" height="45.76" fill="#3c1e5c"/><rect x="926.50" y="1697.61" width="45.83" height="45.76" fill="#3c1e5c"/><rect x="974.73" y="1697.61" width="45.83" height="45.76" fill="#44276f"/><rect x="1022.97" y="1697.61" width="45.83" height="45.76" fill="#3c1e5c"/><rect x="637.10" y="1745.77" width="45.83" height="45.76" fill="#3c1e5c"/><rect x="685.33" y="1745.77" width="45.83" height="45.76" fill="#3c1e5c"/><rect x="733.57" y="1745.77" width="45.83" height="45.76" fill="#3c1e5c"/><rect x="781.80" y="1745.77" width="45.83" height="45.76" fill="#fae437"/><rect x="830.03" y="1745.77" width="45.83" height="45.76" fill="#3c1e5c"/><rect x="878.27" y="1745.77" width="45.83" height="45.76" fill="#3c1e5c"/><rect x="926.50" y="1745.77" width="45.83" height="45.76" fill="#3c1e5c"/><rect x="974.73" y="1745.77" width="45.83" height="45.76" fill="#3c1e5c"/><rect x="1022.97" y="1745.77" width="45.83" height="45.76" fill="#3c1e5c"/><rect x="637.10" y="1793.92" width="45.83" height="45.76" fill="#3c1e5c"/><rect x="685.33" y="1793.92" width="45.83" height="45.76" fill="#3c1e5c"/><rect x="733.57" y="1793.92" width="45.83" height="45.76" fill="#3c1e5c"/><rect x="781.80" y="1793.92" width="45.83" height="45.76" fill="#3c1e5c"/><rect x="830.03" y="1793.92" width="45.83" height="45.76" fill="#ede434"/><rect x="878.27" y="1793.92" width="45.83" height="45.76" fill="#402266"/><rect x="926.50" y="1793.92" width="45.83" height="45.76" fill="#3c1e5c"/><rect x="974.73" y="1793.92" width="45.83" height="45.76" fill="#3c1e5c"/><rect x="1022.97" y="1793.92" width="45.83" height="45.76" fill="#3c1e5c"/><rect x="637.10" y="1842.08" width="45.83" height="45.76" fill="#472b78"/><rect x="685.33" y="1842.08" width="45.83" height="45.76" fill="#3c1e5c"/><rect x="733.57" y="1842.08" width="45.83" height="45.76" fill="#3c1e5c"/><rect x="781.80" y="1842.08" width="45.83" height="45.76" fill="#3c1e5c"/><rect x="830.03" y="1842.08" width="45.83" height="45.76" fill="#3c1e5c"/><rect x="878.27" y="1842.08" width="45.83" height="45.76" fill="#d0e038"/><rect x="926.50" y="1842.08" width="45.83" height="45.76" fill="#3c1e5c"/><rect x="974.73" y="1842.08" width="45.83" height="45.76" fill="#3c1e5c"/><rect x="1022.97" y="1842.08" width="45.83" height="45.76" fill="#3c1e5c"/><rect x="637.10" y="1890.23" width="45.83" height="45.76" fill="#454193"/><rect x="685.33" y="1890.23" width="45.83" height="45.76" fill="#402266"/><rect x="733.57" y="1890.23" width="45.83" height="45.76" fill="#3c1e5c"/><rect x="781.80" y="1890.23" width="45.83" height="45.76" fill="#3c1e5c"/><rect x="830.03" y="1890.23" width="45.83" height="45.76" fill="#44276f"/><rect x="878.27" y="1890.23" width="45.83" height="45.76" fill="#3c1e5c"/><rect x="926.50" y="1890.23" width="45.83" height="45.76" fill="#249d91"/><rect x="974.73" y="1890.23" width="45.83" height="45.76" fill="#3c579a"/><rect x="1022.97" y="1890.23" width="45.83" height="45.76" fill="#3e1f60"/><rect x="637.10" y="1938.39" width="45.83" height="45.76" fill="#482e7e"/><rect x="685.33" y="1938.39" width="45.83" height="45.76" fill="#3c1e5c"/><rect x="733.57" y="1938.39" width="45.83" height="45.76" fill="#3c1e5c"/><rect x="781.80" y="1938.39" width="45.83" height="45.76" fill="#3c1e5c"/><rect x="830.03" y="1938.39" width="45.83" height="45.76" fill="#482e7e"/><rect x="878.27" y="1938.39" width="45.83" height="45.76" fill="#3c1e5c"/><rect x="926.50" y="1938.39" width="45.83" height="45.76" fill="#288c95"/><rect x="974.73" y="1938.39" width="45.83" height="45.76" fill="#2e7797"/><rect x="1022.97" y="1938.39" width="45.83" height="45.76" fill="#3c1e5c"/><rect x="637.10" y="1986.54" width="45.83" height="45.76" fill="#3c1e5c"/><rect x="685.33" y="1986.54" width="45.83" height="45.76" fill="#3c1e5c"/><rect x="733.57" y="1986.54" width="45.83" height="45.76" fill="#3c1e5c"/><rect x="781.80" y="1986.54" width="45.83" height="45.76" fill="#3c1e5c"/><rect x="830.03" y="1986.54" width="45.83" height="45.76" fill="#3c1e5c"/><rect x="878.27" y="1986.54" width="45.83" height="45.76" fill="#3c1e5c"/><rect x="926.50" y="1986.54" width="45.83" height="45.76" fill="#3c1e5c"/><rect x="974.73" y="1986.54" width="45.83" height="45.76" fill="#3c1e5c"/><rect x="1022.97" y="1986.54" width="45.83" height="45.76" fill="#fae437"/>
<g font-family="DejaVu Sans, Liberation Sans, sans-serif" font-size="13.80" text-anchor="middle" stroke-width="0.3"><text x="660.02" y="1628.08" fill="#1c1c1c" stroke="#1c1c1c">0.87</text><text x="708.25" y="1628.08" fill="#ffffff" stroke="#ffffff">0.00</text><text x="756.48" y="1628.08" fill="#ffffff" stroke="#ffffff">0.00</text><text x="804.72" y="1628.08" fill="#ffffff" stroke="#ffffff">0.00</text><text x="852.95" y="1628.08" fill="#ffffff" stroke="#ffffff">0.00</text><text x="901.18" y="1628.08" fill="#ffffff" stroke="#ffffff">0.00</text><text x="949.42" y="1628.08" fill="#ffffff" stroke="#ffffff">0.13</text><text x="997.65" y="1628.08" fill="#ffffff" stroke="#ffffff">0.00</text><text x="1045.88" y="1628.08" fill="#ffffff" stroke="#ffffff">0.00</text><text x="660.02" y="1676.23" fill="#ffffff" stroke="#ffffff">0.00</text><text x="708.25" y="1676.23" fill="#1c1c1c" stroke="#1c1c1c">0.92</text><text x="756.48" y="1676.23" fill="#ffffff" stroke="#ffffff">0.00</text><text x="804.72" y="1676.23" fill="#ffffff" stroke="#ffffff">0.01</text><text x="852.95" y="1676.23" fill="#ffffff" stroke="#ffffff">0.00</text><text x="901.18" y="1676.23" fill="#ffffff" stroke="#ffffff">0.00</text><text x="949.42" y="1676.23" fill="#ffffff" stroke="#ffffff">0.00</text><text x="997.65" y="1676.23" fill="#ffffff" stroke="#ffffff">0.00</text><text x="1045.88" y="1676.23" fill="#ffffff" stroke="#ffffff">0.06</text><text x="660.02" y="1724.39" fill="#ffffff" stroke="#ffffff">0.00</text><text x="708.25" y="1724.39" fill="#ffffff" stroke="#ffffff">0.00</text><text x="756.48" y="1724.39" fill="#1c1c1c" stroke="#1c1c1c">0.94</text><text x="804.72" y="1724.39" fill="#ffffff" stroke="#ffffff">0.00</text><text x="852.95" y="1724.39" fill="#ffffff" stroke="#ffffff">0.02</text><text x="901.18" y="1724.39" fill="#ffffff" stroke="#ffffff">0.00</text><text x="949.42" y="1724.39" fill="#ffffff" stroke="#ffffff">0.00</text><text x="997.65" y="1724.39" fill="#ffffff" stroke="#ffffff">0.04</text><text x="1045.88" y="1724.39" fill="#ffffff" stroke="#ffffff">0.00</text><text x="660.02" y="1772.54" fill="#ffffff" stroke="#ffffff">0.00</text><text x="708.25" y="1772.54" fill="#ffffff" stroke="#ffffff">0.00</text><text x="756.48" y="1772.54" fill="#ffffff" stroke="#ffffff">0.00</text><text x="804.72" y="1772.54" fill="#1c1c1c" stroke="#1c1c1c">1.00</text><text x="852.95" y="1772.54" fill="#ffffff" stroke="#ffffff">0.00</text><text x="901.18" y="1772.54" fill="#ffffff" stroke="#ffffff">0.00</text><text x="949.42" y="1772.54" fill="#ffffff" stroke="#ffffff">0.00</text><text x="997.65" y="1772.54" fill="#ffffff" stroke="#ffffff">0.00</text><text x="1045.88" y="1772.54" fill="#ffffff" stroke="#ffffff">0.00</text><text x="660.02" y="1820.70" fill="#ffffff" stroke="#ffffff">0.00</text><text x="708.25" y="1820.70" fill="#ffffff" stroke="#ffffff">0.00</text><text x="756.48" y="1820.70" fill="#ffffff" stroke="#ffffff">0.00</text><text x="804.72" y="1820.70" fill="#ffffff" stroke="#ffffff">0.00</text><text x="852.95" y="1820.70" fill="#1c1c1c" stroke="#1c1c1c">0.98</text><text x="901.18" y="1820.70" fill="#ffffff" stroke="#ffffff">0.02</text><text x="949.42" y="1820.70" fill="#ffffff" stroke="#ffffff">0.00</text><text x="997.65" y="1820.70" fill="#ffffff" stroke="#ffffff">0.00</text><text x="1045.88" y="1820.70" fill="#ffffff" stroke="#ffffff">0.00</text><text x="660.02" y="1868.86" fill="#ffffff" stroke="#ffffff">0.06</text><text x="708.25" y="1868.86" fill="#ffffff" stroke="#ffffff">0.00</text><text x="756.48" y="1868.86" fill="#ffffff" stroke="#ffffff">0.00</text><text x="804.72" y="1868.86" fill="#ffffff" stroke="#ffffff">0.00</text><text x="852.95" y="1868.86" fill="#ffffff" stroke="#ffffff">0.00</text><text x="901.18" y="1868.86" fill="#1c1c1c" stroke="#1c1c1c">0.94</text><text x="949.42" y="1868.86" fill="#ffffff" stroke="#ffffff">0.00</text><text x="997.65" y="1868.86" fill="#ffffff" stroke="#ffffff">0.00</text><text x="1045.88" y="1868.86" fill="#ffffff" stroke="#ffffff">0.00</text><text x="660.02" y="1917.01" fill="#ffffff" stroke="#ffffff">0.16</text><text x="708.25" y="1917.01" fill="#ffffff" stroke="#ffffff">0.02</text><text x="756.48" y="1917.01" fill="#ffffff" stroke="#ffffff">0.00</text><text x="804.72" y="1917.01" fill="#ffffff" stroke="#ffffff">0.00</text><text x="852.95" y="1917.01" fill="#ffffff" stroke="#ffffff">0.04</text><text x="901.18" y="1917.01" fill="#ffffff" stroke="#ffffff">0.00</text><text x="949.42" y="1917.01" fill="#ffffff" stroke="#ffffff">0.53</text><text x="997.65" y="1917.01" fill="#ffffff" stroke="#ffffff">0.24</text><text x="1045.88" y="1917.01" fill="#ffffff" stroke="#ffffff">0.01</text><text x="660.02" y="1965.17" fill="#ffffff" stroke="#ffffff">0.08</text><text x="708.25" y="1965.17" fill="#ffffff" stroke="#ffffff">0.00</text><text x="756.48" y="1965.17" fill="#ffffff" stroke="#ffffff">0.00</text><text x="804.72" y="1965.17" fill="#ffffff" stroke="#ffffff">0.00</text><text x="852.95" y="1965.17" fill="#ffffff" stroke="#ffffff">0.08</text><text x="901.18" y="1965.17" fill="#ffffff" stroke="#ffffff">0.00</text><text x="949.42" y="1965.17" fill="#ffffff" stroke="#ffffff">0.46</text><text x="997.65" y="1965.17" fill="#ffffff" stroke="#ffffff">0.38</text><text x="1045.88" y="1965.17" fill="#ffffff" stroke="#ffffff">0.00</text><text x="660.02" y="2013.32" fill="#ffffff" stroke="#ffffff">0.00</text><text x="708.25" y="2013.32" fill="#ffffff" stroke="#ffffff">0.00</text><text x="756.48" y="2013.32" fill="#ffffff" stroke="#ffffff">0.00</text><text x="804.72" y="2013.32" fill="#ffffff" stroke="#ffffff">0.00</text><text x="852.95" y="2013.32" fill="#ffffff" stroke="#ffffff">0.00</text><text x="901.18" y="2013.32" fill="#ffffff" stroke="#ffffff">0.00</text><text x="949.42" y="2013.32" fill="#ffffff" stroke="#ffffff">0.00</text><text x="997.65" y="2013.32" fill="#ffffff" stroke="#ffffff">0.00</text><text x="1045.88" y="2013.32" fill="#1c1c1c" stroke="#1c1c1c">1.00</text></g>
</g>
<g>
<rect x="1097.30" y="1602.90" width="45.82" height="45.80" fill="#cade38"/><rect x="1145.52" y="1602.90" width="45.82" height="45.80" fill="#3c1e5c"/><rect x="1193.74" y="1602.90" width="45.82" height="45.80" fill="#3c1e5c"/><rect x="1241.97" y="1602.90" width="45.82" height="45.80" fill="#3c1e5c"/><rect x="1290.19" y="1602.90" width="45.82" height="45.80" fill="#3c1e5c"/><rect x="1338.41" y="1602.90" width="45.82" height="45.80" fill="#3c1e5c"/><rect x="1386.63" y="1602.90" width="45.82" height="45.80" fill="#42246a"/><rect x="1434.86" y="1602.90" width="45.82" height="45.80" fill="#44276f"/><rect x="1483.08" y="1602.90" width="45.82" height="45.80" fill="#3c1e5c"/><rect x="1097.30" y="1651.10" width="45.82" height="45.80" fill="#3c1e5c"/><rect x="1145.52" y="1651.10" width="45.82" height="45.80" fill="#d7e237"/><rect x="1193.74" y="1651.10" width="45.82" height="45.80" fill="#3c1e5c"/><rect x="1241.97" y="1651.10" width="45.82" height="45.80" fill="#3c1e5c"/><rect x="1290.19" y="1651.10" width="45.82" height="45.80" fill="#3c1e5c"/><rect x="1338.41" y="1651.10" width="45.82" height="45.80" fill="#3c1e5c"/><rect x="1386.63" y="1651.10" width="45.82" height="45.80" fill="#3c1e5c"/><rect x="1434.86" y="1651.10" width="45.82" height="45.80" fill="#3c1e5c"/><rect x="1483.08" y="1651.10" width="45.82" height="45.80" fill="#452873"/><rect x="1097.30" y="1699.30" width="45.82" height="45.80" fill="#3c1e5c"/><rect x="1145.52" y="1699.30" width="45.82" height="45.80" fill="#3c1e5c"/><rect x="1193.74" y="1699.30" width="45.82" height="45.80" fill="#d7e237"/><rect x="1241.97" y="1699.30" width="45.82" height="45.80" fill="#3c1e5c"/><rect x="1290.19" y="1699.30" width="45.82" height="45.80" fill="#452873"/><rect x="1338.41" y="1699.30" width="45.82" height="45.80" fill="#3c1e5c"/><rect x="1386.63" y="1699.30" width="45.82" height="45.80" fill="#3c1e5c"/><rect x="1434.86" y="1699.30" width="45.82" height="45.80" fill="#3c1e5c"/><rect x="1483.08" y="1699.30" width="45.82" height="45.80" fill="#3c1e5c"/><rect x="1097.30" y="1747.50" width="45.82" height="45.80" fill="#3c1e5c"/><rect x="1145.52" y="1747.50" width="45.82" height="45.80" fill="#3c1e5c"/><rect x="1193.74" y="1747.50" width="45.82" height="45.80" fill="#3c1e5c"/><rect x="1241.97" y="1747.50" width="45.82" height="45.80" fill="#fae437"/><rect x="1290.19" y="1747.50" width="45.82" height="45.80" fill="#3c1e5c"/><rect x="1338.41" y="1747.50" width="45.82" height="45.80" fill="#3c1e5c"/><rect x="1386.63" y="1747.50" width="45.82" height="45.80" fill="#3c1e5c"/><rect x="1434.86" y="1747.50" width="45.82" height="45.80" fill="#3c1e5c"/><rect x="1483.08" y="1747.50" width="45.82" height="45.80" fill="#3c1e5c"/><rect x="1097.30" y="1795.70" width="45.82" height="45.80" fill="#3c1e5c"/><rect x="1145.52" y="1795.70" width="45.82" height="45.80" fill="#3c1e5c"/><rect x="1193.74" y="1795.70" width="45.82" height="45.80" fill="#3e1f60"/><rect x="1241.97" y="1795.70" width="45.82" height="45.80" fill="#3c1e5c"/><rect x="1290.19" y="1795.70" width="45.82" height="45.80" fill="#d0e038"/><rect x="1338.41" y="1795.70" width="45.82" height="45.80" fill="#44276f"/><rect x="1386.63" y="1795.70" width="45.82" height="45.80" fill="#3c1e5c"/><rect x="1434.86" y="1795.70" width="45.82" height="45.80" fill="#3c1e5c"/><rect x="1483.08" y="1795.70" width="45.82" height="45.80" fill="#3e1f60"/><rect x="1097.30" y="1843.90" width="45.82" height="45.80" fill="#3c1e5c"/><rect x="1145.52" y="1843.90" width="45.82" height="45.80" fill="#3c1e5c"/><rect x="1193.74" y="1843.90" width="45.82" height="45.80" fill="#3c1e5c"/><rect x="1241.97" y="1843.90" width="45.82" height="45.80" fill="#3c1e5c"/><rect x="1290.19" y="1843.90" width="45.82" height="45.80" fill="#42246a"/><rect x="1338.41" y="1843.90" width="45.82" height="45.80" fill="#e4e534"/><rect x="1386.63" y="1843.90" width="45.82" height="45.80" fill="#3c1e5c"/><rect x="1434.86" y="1843.90" width="45.82" height="45.80" fill="#3c1e5c"/><rect x="1483.08" y="1843.90" width="45.82" height="45.80" fill="#3c1e5c"/><rect x="1097.30" y="1892.10" width="45.82" height="45.80" fill="#3c1e5c"/><rect x="1145.52" y="1892.10" width="45.82" height="45.80" fill="#3c1e5c"/><rect x="1193.74" y="1892.10" width="45.82" height="45.80" fill="#3c1e5c"/><rect x="1241.97" y="1892.10" width="45.82" height="45.80" fill="#3c1e5c"/><rect x="1290.19" y="1892.10" width="45.82" height="45.80" fill="#3c1e5c"/><rect x="1338.41" y="1892.10" width="45.82" height="45.80" fill="#3c1e5c"/><rect x="1386.63" y="1892.10" width="45.82" height="45.80" fill="#fae437"/><rect x="1434.86" y="1892.10" width="45.82" height="45.80" fill="#3c1e5c"/><rect x="1483.08" y="1892.10" width="45.82" height="45.80" fill="#3c1e5c"/><rect x="1097.30" y="1940.30" width="45.82" height="45.80" fill="#346899"/><rect x="1145.52" y="1940.30" width="45.82" height="45.80" fill="#402266"/><rect x="1193.74" y="1940.30" width="45.82" height="45.80" fill="#3c1e5c"/><rect x="1241.97" y="1940.30" width="45.82" height="45.80" fill="#42246a"/><rect x="1290.19" y="1940.30" width="45.82" height="45.80" fill="#452873"/><rect x="1338.41" y="1940.30" width="45.82" height="45.80" fill="#3c1e5c"/><rect x="1386.63" y="1940.30" width="45.82" height="45.80" fill="#414d98"/><rect x="1434.86" y="1940.30" width="45.82" height="45.80" fill="#2d7896"/><rect x="1483.08" y="1940.30" width="45.82" height="45.80" fill="#3c1e5c"/><rect x="1097.30" y="1988.50" width="45.82" height="45.80" fill="#3c1e5c"/><rect x="1145.52" y="1988.50" width="45.82" height="45.80" fill="#3c1e5c"/><rect x="1193.74" y="1988.50" width="45.82" height="45.80" fill="#3c1e5c"/><rect x="1241.97" y="1988.50" width="45.82" height="45.80" fill="#3c1e5c"/><rect x="1290.19" y="1988.50" width="45.82" height="45.80" fill="#3c1e5c"/><rect x="1338.41" y="1988.50" width="45.82" height="45.80" fill="#3c1e5c"/><rect x="1386.63" y="1988.50" width="45.82" height="45.80" fill="#3c1e5c"/><rect x="1434.86" y="1988.50" width="45.82" height="45.80" fill="#3c1e5c"/><rect x="1483.08" y="1988.50" width="45.82" height="45.80" fill="#fae437"/>
<g font-family="DejaVu Sans, Liberation Sans, sans-serif" font-size="13.80" text-anchor="middle" stroke-width="0.3"><text x="1120.21" y="1629.70" fill="#1c1c1c" stroke="#1c1c1c">0.93</text><text x="1168.43" y="1629.70" fill="#ffffff" stroke="#ffffff">0.00</text><text x="1216.66" y="1629.70" fill="#ffffff" stroke="#ffffff">0.00</text><text x="1264.88" y="1629.70" fill="#ffffff" stroke="#ffffff">0.00</text><text x="1313.10" y="1629.70" fill="#ffffff" stroke="#ffffff">0.00</text><text x="1361.32" y="1629.70" fill="#ffffff" stroke="#ffffff">0.00</text><text x="1409.54" y="1629.70" fill="#ffffff" stroke="#ffffff">0.03</text><text x="1457.77" y="1629.70" fill="#ffffff" stroke="#ffffff">0.04</text><text x="1505.99" y="1629.70" fill="#ffffff" stroke="#ffffff">0.00</text><text x="1120.21" y="1677.90" fill="#ffffff" stroke="#ffffff">0.00</text><text x="1168.43" y="1677.90" fill="#1c1c1c" stroke="#1c1c1c">0.95</text><text x="1216.66" y="1677.90" fill="#ffffff" stroke="#ffffff">0.00</text><text x="1264.88" y="1677.90" fill="#ffffff" stroke="#ffffff">0.00</text><text x="1313.10" y="1677.90" fill="#ffffff" stroke="#ffffff">0.00</text><text x="1361.32" y="1677.90" fill="#ffffff" stroke="#ffffff">0.00</text><text x="1409.54" y="1677.90" fill="#ffffff" stroke="#ffffff">0.00</text><text x="1457.77" y="1677.90" fill="#ffffff" stroke="#ffffff">0.00</text><text x="1505.99" y="1677.90" fill="#ffffff" stroke="#ffffff">0.05</text><text x="1120.21" y="1726.10" fill="#ffffff" stroke="#ffffff">0.00</text><text x="1168.43" y="1726.10" fill="#ffffff" stroke="#ffffff">0.00</text><text x="1216.66" y="1726.10" fill="#1c1c1c" stroke="#1c1c1c">0.95</text><text x="1264.88" y="1726.10" fill="#ffffff" stroke="#ffffff">0.00</text><text x="1313.10" y="1726.10" fill="#ffffff" stroke="#ffffff">0.05</text><text x="1361.32" y="1726.10" fill="#ffffff" stroke="#ffffff">0.00</text><text x="1409.54" y="1726.10" fill="#ffffff" stroke="#ffffff">0.00</text><text x="1457.77" y="1726.10" fill="#ffffff" stroke="#ffffff">0.00</text><text x="1505.99" y="1726.10" fill="#ffffff" stroke="#ffffff">0.00</text><text x="1120.21" y="1774.30" fill="#ffffff" stroke="#ffffff">0.00</text><text x="1168.43" y="1774.30" fill="#ffffff" stroke="#ffffff">0.00</text><text x="1216.66" y="1774.30" fill="#ffffff" stroke="#ffffff">0.00</text><text x="1264.88" y="1774.30" fill="#1c1c1c" stroke="#1c1c1c">1.00</text><text x="1313.10" y="1774.30" fill="#ffffff" stroke="#ffffff">0.00</text><text x="1361.32" y="1774.30" fill="#ffffff" stroke="#ffffff">0.00</text><text x="1409.54" y="1774.30" fill="#ffffff" stroke="#ffffff">0.00</text><text x="1457.77" y="1774.30" fill="#ffffff" stroke="#ffffff">0.00</text><text x="1505.99" y="1774.30" fill="#ffffff" stroke="#ffffff">0.00</text><text x="1120.21" y="1822.50" fill="#ffffff" stroke="#ffffff">0.00</text><text x="1168.43" y="1822.50" fill="#ffffff" stroke="#ffffff">0.00</text><text x="1216.66" y="1822.50" fill="#ffffff" stroke="#ffffff">0.01</text><text x="1264.88" y="1822.50" fill="#ffffff" stroke="#ffffff">0.00</text><text x="1313.10" y="1822.50" fill="#1c1c1c" stroke="#1c1c1c">0.94</text><text x="1361.32" y="1822.50" fill="#ffffff" stroke="#ffffff">0.04</text><text x="1409.54" y="1822.50" fill="#ffffff" stroke="#ffffff">0.00</text><text x="1457.77" y="1822.50" fill="#ffffff" stroke="#ffffff">0.00</text><text x="1505.99" y="1822.50" fill="#ffffff" stroke="#ffffff">0.01</text><text x="1120.21" y="1870.70" fill="#ffffff" stroke="#ffffff">0.00</text><text x="1168.43" y="1870.70" fill="#ffffff" stroke="#ffffff">0.00</text><text x="1216.66" y="1870.70" fill="#ffffff" stroke="#ffffff">0.00</text><text x="1264.88" y="1870.70" fill="#ffffff" stroke="#ffffff">0.00</text><text x="1313.10" y="1870.70" fill="#ffffff" stroke="#ffffff">0.03</text><text x="1361.32" y="1870.70" fill="#1c1c1c" stroke="#1c1c1c">0.97</text><text x="1409.54" y="1870.70" fill="#ffffff" stroke="#ffffff">0.00</text><text x="1457.77" y="1870.70" fill="#ffffff" stroke="#ffffff">0.00</text><text x="1505.99" y="1870.70" fill="#ffffff" stroke="#ffffff">0.00</text><text x="1120.21" y="1918.90" fill="#ffffff" stroke="#ffffff">0.00</text><text x="1168.43" y="1918.90" fill="#ffffff" stroke="#ffffff">0.00</text><text x="1216.66" y="1918.90" fill="#ffffff" stroke="#ffffff">0.00</text><text x="1264.88" y="1918.90" fill="#ffffff" stroke="#ffffff">0.00</text><text x="1313.10" y="1918.90" fill="#ffffff" stroke="#ffffff">0.00</text><text x="1361.32" y="1918.90" fill="#ffffff" stroke="#ffffff">0.00</text><text x="1409.54" y="1918.90" fill="#1c1c1c" stroke="#1c1c1c">1.00</text><text x="1457.77" y="1918.90" fill="#ffffff" stroke="#ffffff">0.00</text><text x="1505.99" y="1918.90" fill="#ffffff" stroke="#ffffff">0.00</text><text x="1120.21" y="1967.10" fill="#ffffff" stroke="#ffffff">0.31</text><text x="1168.43" y="1967.10" fill="#ffffff" stroke="#ffffff">0.02</text><text x="1216.66" y="1967.10" fill="#ffffff" stroke="#ffffff">0.00</text><text x="1264.88" y="1967.10" fill="#ffffff" stroke="#ffffff">0.03</text><text x="1313.10" y="1967.10" fill="#ffffff" stroke="#ffffff">0.05</text><text x="1361.32" y="1967.10" fill="#ffffff" stroke="#ffffff">0.00</text><text x="1409.54" y="1967.10" fill="#ffffff" stroke="#ffffff">0.20</text><text x="1457.77" y="1967.10" fill="#ffffff" stroke="#ffffff">0.39</text><text x="1505.99" y="1967.10" fill="#ffffff" stroke="#ffffff">0.00</text><text x="1120.21" y="2015.30" fill="#ffffff" stroke="#ffffff">0.00</text><text x="1168.43" y="2015.30" fill="#ffffff" stroke="#ffffff">0.00</text><text x="1216.66" y="2015.30" fill="#ffffff" stroke="#ffffff">0.00</text><text x="1264.88" y="2015.30" fill="#ffffff" stroke="#ffffff">0.00</text><text x="1313.10" y="2015.30" fill="#ffffff" stroke="#ffffff">0.00</text><text x="1361.32" y="2015.30" fill="#ffffff" stroke="#ffffff">0.00</text><text x="1409.54" y="2015.30" fill="#ffffff" stroke="#ffffff">0.00</text><text x="1457.77" y="2015.30" fill="#ffffff" stroke="#ffffff">0.00</text><text x="1505.99" y="2015.30" fill="#1c1c1c" stroke="#1c1c1c">1.00</text></g>
</g>
<g font-family="Liberation Sans, Arial, Helvetica, sans-serif" font-size="29.17" text-anchor="end">
<text x="585.20" y="1634.88" fill="#000000">Normal</text>
<text x="585.20" y="1683.03" fill="#ee3f35">–BMP</text>
<text x="585.20" y="1731.19" fill="#44308e">+RA</text>
<text x="585.20" y="1779.34" fill="#666766">–Wnt</text>
<text x="585.20" y="1827.50" fill="#2f6fb7">–FGF</text>
<text x="585.20" y="1875.66" fill="#2e8d47">–Nodal</text>
<text x="585.20" y="1923.81" fill="#f58732">–Shh</text>
<text x="585.20" y="1971.97" fill="#f9e335">–PCP</text>
<text x="585.20" y="2020.12" fill="#e60f97">Dead</text>
</g>
<circle cx="613.30" cy="1624.88" r="14.80" fill="#fff" stroke="#1a1a1a" stroke-width="1.1"/>
<circle cx="613.30" cy="1673.03" r="14.60" fill="#ee3f35"/>
<circle cx="613.30" cy="1721.19" r="14.60" fill="#44308e"/>
<circle cx="613.30" cy="1769.34" r="14.60" fill="#666766"/>
<circle cx="613.30" cy="1817.50" r="14.60" fill="#2f6fb7"/>
<circle cx="613.30" cy="1865.66" r="14.60" fill="#2e8d47"/>
<circle cx="613.30" cy="1913.81" r="14.60" fill="#f58732"/>
<circle cx="613.30" cy="1961.97" r="14.60" fill="#f9e335"/>
<circle cx="613.30" cy="2010.12" r="14.60" fill="#e60f97"/>
<circle cx="660.02" cy="2061.80" r="14.80" fill="#fff" stroke="#1a1a1a" stroke-width="1.1"/>
<circle cx="708.25" cy="2061.80" r="14.60" fill="#ee3f35"/>
<circle cx="756.48" cy="2061.80" r="14.60" fill="#44308e"/>
<circle cx="804.72" cy="2061.80" r="14.60" fill="#666766"/>
<circle cx="852.95" cy="2061.80" r="14.60" fill="#2f6fb7"/>
<circle cx="901.18" cy="2061.80" r="14.60" fill="#2e8d47"/>
<circle cx="949.42" cy="2061.80" r="14.60" fill="#f58732"/>
<circle cx="997.65" cy="2061.80" r="14.60" fill="#f9e335"/>
<circle cx="1045.88" cy="2061.80" r="14.60" fill="#e60f97"/>
<circle cx="1120.92" cy="2062.40" r="14.80" fill="#fff" stroke="#1a1a1a" stroke-width="1.1"/>
<circle cx="1169.15" cy="2062.40" r="14.60" fill="#ee3f35"/>
<circle cx="1217.38" cy="2062.40" r="14.60" fill="#44308e"/>
<circle cx="1265.62" cy="2062.40" r="14.60" fill="#666766"/>
<circle cx="1313.85" cy="2062.40" r="14.60" fill="#2f6fb7"/>
<circle cx="1362.08" cy="2062.40" r="14.60" fill="#2e8d47"/>
<circle cx="1410.32" cy="2062.40" r="14.60" fill="#f58732"/>
<circle cx="1458.55" cy="2062.40" r="14.60" fill="#f9e335"/>
<circle cx="1506.78" cy="2062.40" r="14.60" fill="#e60f97"/>
<text transform="translate(485.40 1818.00) rotate(-90)" font-family="Liberation Sans, Arial, Helvetica, sans-serif" font-size="29.17" font-weight="bold" text-anchor="middle" fill="#231f20">Ground truth</text>
<text x="1290.40" y="2119.20" font-family="Liberation Sans, Arial, Helvetica, sans-serif" font-size="29.17" font-weight="bold" text-anchor="end" fill="#231f20" >EmbryoNet-Prime assessment</text>
</svg>
</body></html>
